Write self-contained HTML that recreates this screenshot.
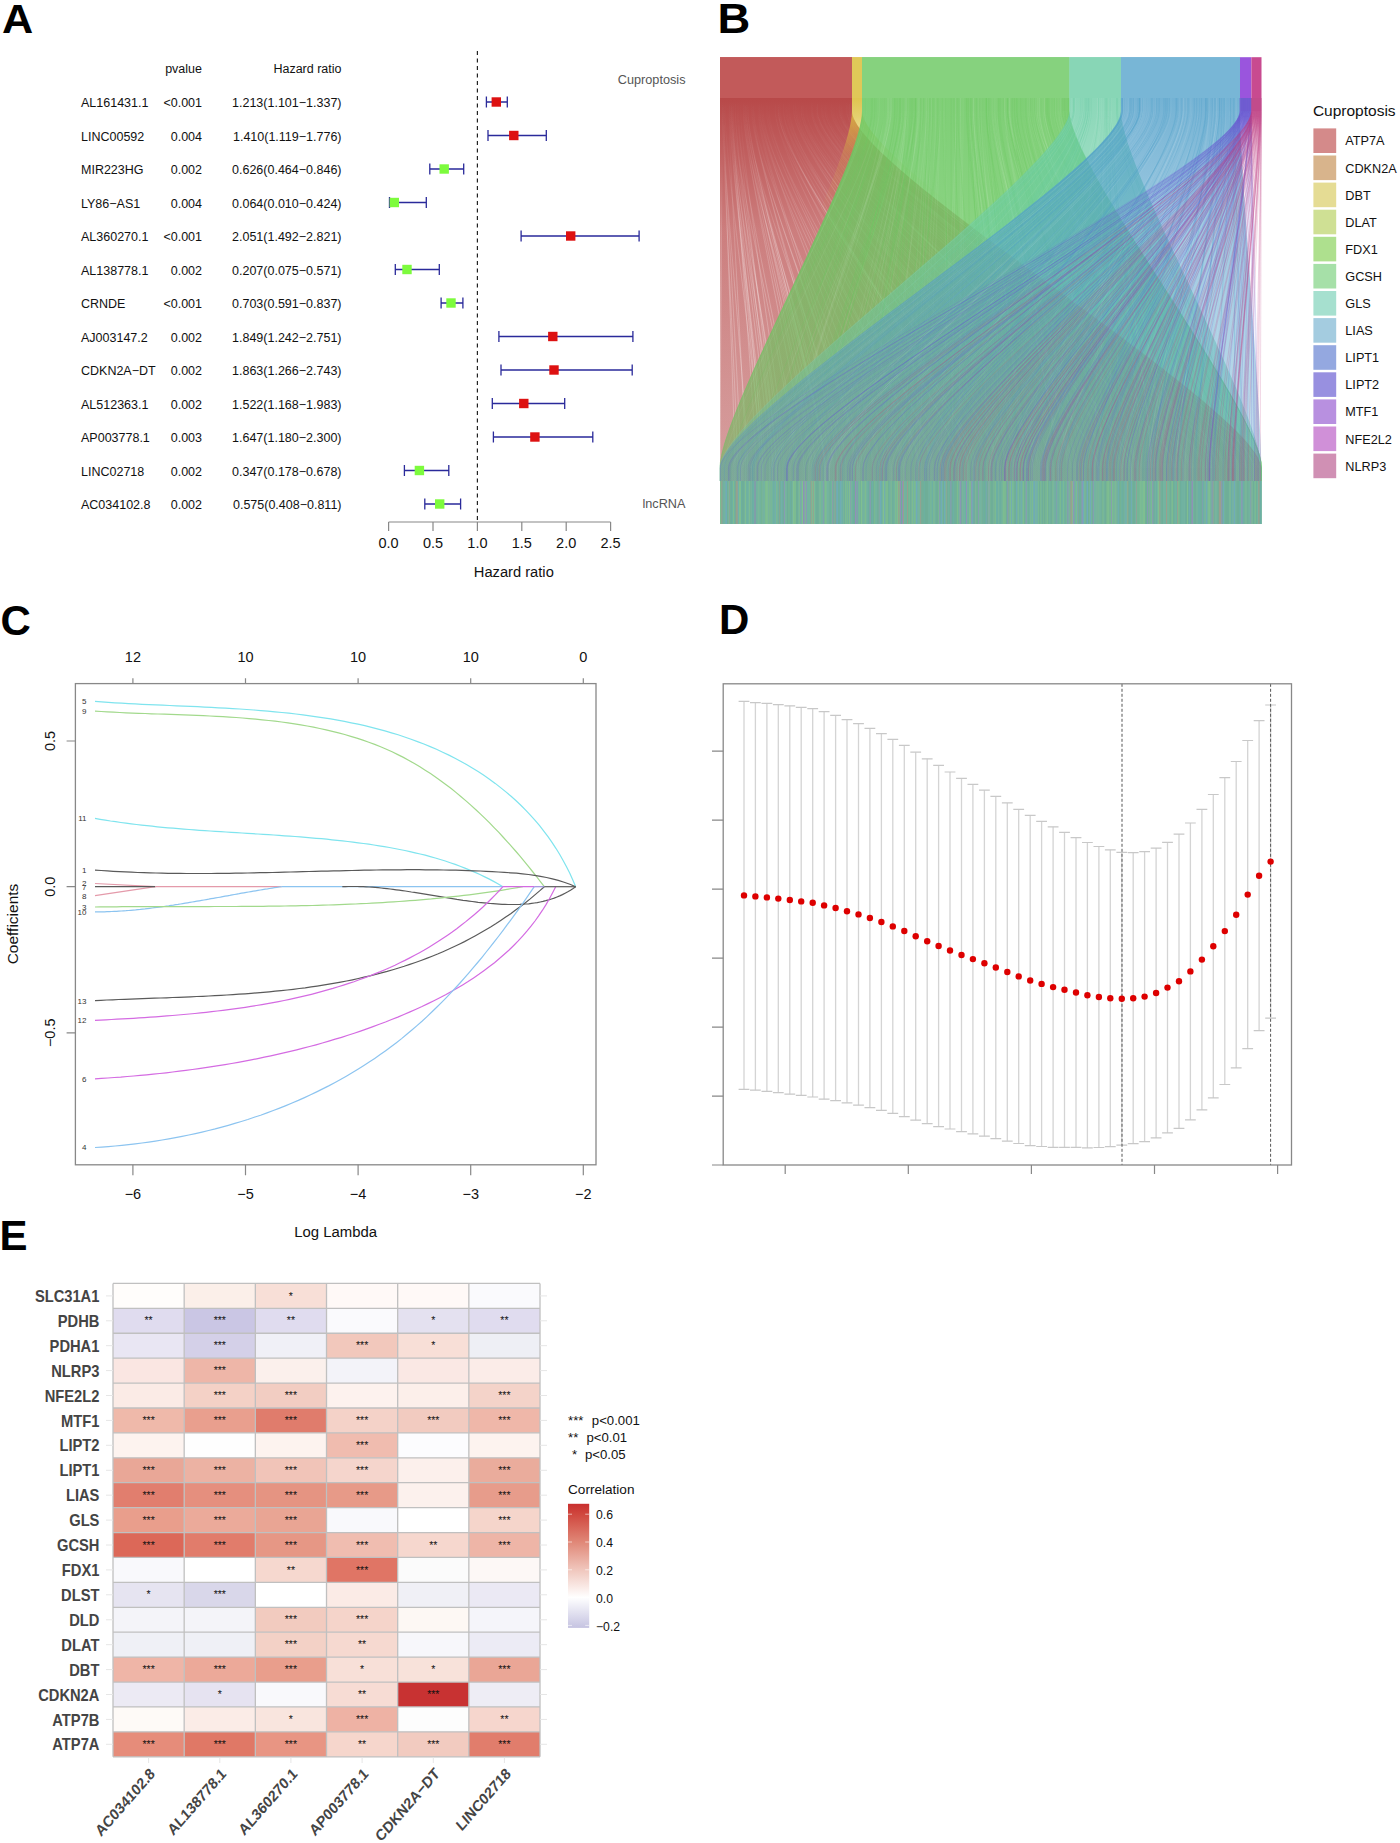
<!DOCTYPE html>
<html><head><meta charset="utf-8"><title>Figure</title>
<style>html,body{margin:0;padding:0;background:#fff;}svg{display:block;}</style></head>
<body><svg width="1400" height="1843" viewBox="0 0 1400 1843" font-family="'Liberation Sans', sans-serif">
<rect width="1400" height="1843" fill="#fff"/>
<text transform="translate(2 32.5) scale(1.08 1)" x="0" y="0" font-size="40" font-weight="bold" fill="#000">A</text>
<g font-size="12.5" fill="#111">
<text x="202" y="72.5" text-anchor="end">pvalue</text>
<text x="341.5" y="72.5" text-anchor="end">Hazard ratio</text>
<text x="81" y="107.0">AL161431.1</text>
<text x="202" y="107.0" text-anchor="end">&lt;0.001</text>
<text x="341.5" y="107.0" text-anchor="end">1.213(1.101−1.337)</text>
<text x="81" y="140.5">LINC00592</text>
<text x="202" y="140.5" text-anchor="end">0.004</text>
<text x="341.5" y="140.5" text-anchor="end">1.410(1.119−1.776)</text>
<text x="81" y="174.0">MIR223HG</text>
<text x="202" y="174.0" text-anchor="end">0.002</text>
<text x="341.5" y="174.0" text-anchor="end">0.626(0.464−0.846)</text>
<text x="81" y="207.5">LY86−AS1</text>
<text x="202" y="207.5" text-anchor="end">0.004</text>
<text x="341.5" y="207.5" text-anchor="end">0.064(0.010−0.424)</text>
<text x="81" y="241.0">AL360270.1</text>
<text x="202" y="241.0" text-anchor="end">&lt;0.001</text>
<text x="341.5" y="241.0" text-anchor="end">2.051(1.492−2.821)</text>
<text x="81" y="274.5">AL138778.1</text>
<text x="202" y="274.5" text-anchor="end">0.002</text>
<text x="341.5" y="274.5" text-anchor="end">0.207(0.075−0.571)</text>
<text x="81" y="308.0">CRNDE</text>
<text x="202" y="308.0" text-anchor="end">&lt;0.001</text>
<text x="341.5" y="308.0" text-anchor="end">0.703(0.591−0.837)</text>
<text x="81" y="341.5">AJ003147.2</text>
<text x="202" y="341.5" text-anchor="end">0.002</text>
<text x="341.5" y="341.5" text-anchor="end">1.849(1.242−2.751)</text>
<text x="81" y="375.0">CDKN2A−DT</text>
<text x="202" y="375.0" text-anchor="end">0.002</text>
<text x="341.5" y="375.0" text-anchor="end">1.863(1.266−2.743)</text>
<text x="81" y="408.5">AL512363.1</text>
<text x="202" y="408.5" text-anchor="end">0.002</text>
<text x="341.5" y="408.5" text-anchor="end">1.522(1.168−1.983)</text>
<text x="81" y="442.0">AP003778.1</text>
<text x="202" y="442.0" text-anchor="end">0.003</text>
<text x="341.5" y="442.0" text-anchor="end">1.647(1.180−2.300)</text>
<text x="81" y="475.5">LINC02718</text>
<text x="202" y="475.5" text-anchor="end">0.002</text>
<text x="341.5" y="475.5" text-anchor="end">0.347(0.178−0.678)</text>
<text x="81" y="509.0">AC034102.8</text>
<text x="202" y="509.0" text-anchor="end">0.002</text>
<text x="341.5" y="509.0" text-anchor="end">0.575(0.408−0.811)</text>
</g>
<g font-size="12.7" fill="#555"><text x="685.5" y="84" text-anchor="end">Cuproptosis</text><text x="685.5" y="508" text-anchor="end">lncRNA</text></g>
<line x1="477.4" y1="51" x2="477.4" y2="522" stroke="#222" stroke-width="1.2" stroke-dasharray="4 3.5"/>
<path d="M486.4 102.0H507.3M486.4 96.6V107.4M507.3 96.6V107.4" stroke="#2a2a9a" stroke-width="1.3" fill="none"/>
<rect x="491.6" y="97.3" width="9.4" height="9.4" fill="#dd1111"/>
<path d="M488.0 135.5H546.3M488.0 130.1V140.9M546.3 130.1V140.9" stroke="#2a2a9a" stroke-width="1.3" fill="none"/>
<rect x="509.1" y="130.8" width="9.4" height="9.4" fill="#dd1111"/>
<path d="M429.8 169.0H463.7M429.8 163.6V174.4M463.7 163.6V174.4" stroke="#2a2a9a" stroke-width="1.3" fill="none"/>
<rect x="439.5" y="164.3" width="9.4" height="9.4" fill="#7dfb3d"/>
<path d="M389.5 202.5H426.3M389.5 197.1V207.9M426.3 197.1V207.9" stroke="#2a2a9a" stroke-width="1.3" fill="none"/>
<rect x="389.6" y="197.8" width="9.4" height="9.4" fill="#7dfb3d"/>
<path d="M521.1 236.0H639.1M521.1 230.6V241.4M639.1 230.6V241.4" stroke="#2a2a9a" stroke-width="1.3" fill="none"/>
<rect x="566.0" y="231.3" width="9.4" height="9.4" fill="#dd1111"/>
<path d="M395.3 269.5H439.3M395.3 264.1V274.9M439.3 264.1V274.9" stroke="#2a2a9a" stroke-width="1.3" fill="none"/>
<rect x="402.3" y="264.8" width="9.4" height="9.4" fill="#7dfb3d"/>
<path d="M441.1 303.0H462.9M441.1 297.6V308.4M462.9 297.6V308.4" stroke="#2a2a9a" stroke-width="1.3" fill="none"/>
<rect x="446.3" y="298.3" width="9.4" height="9.4" fill="#7dfb3d"/>
<path d="M498.9 336.5H632.9M498.9 331.1V341.9M632.9 331.1V341.9" stroke="#2a2a9a" stroke-width="1.3" fill="none"/>
<rect x="548.1" y="331.8" width="9.4" height="9.4" fill="#dd1111"/>
<path d="M501.0 370.0H632.2M501.0 364.6V375.4M632.2 364.6V375.4" stroke="#2a2a9a" stroke-width="1.3" fill="none"/>
<rect x="549.3" y="365.3" width="9.4" height="9.4" fill="#dd1111"/>
<path d="M492.3 403.5H564.7M492.3 398.1V408.9M564.7 398.1V408.9" stroke="#2a2a9a" stroke-width="1.3" fill="none"/>
<rect x="519.1" y="398.8" width="9.4" height="9.4" fill="#dd1111"/>
<path d="M493.4 437.0H592.8M493.4 431.6V442.4M592.8 431.6V442.4" stroke="#2a2a9a" stroke-width="1.3" fill="none"/>
<rect x="530.2" y="432.3" width="9.4" height="9.4" fill="#dd1111"/>
<path d="M404.4 470.5H448.8M404.4 465.1V475.9M448.8 465.1V475.9" stroke="#2a2a9a" stroke-width="1.3" fill="none"/>
<rect x="414.7" y="465.8" width="9.4" height="9.4" fill="#7dfb3d"/>
<path d="M424.8 504.0H460.6M424.8 498.6V509.4M460.6 498.6V509.4" stroke="#2a2a9a" stroke-width="1.3" fill="none"/>
<rect x="435.0" y="499.3" width="9.4" height="9.4" fill="#7dfb3d"/>
<path d="M388.6 522H610.6M388.6 522V531M433.0 522V531M477.4 522V531M521.8 522V531M566.2 522V531M610.6 522V531" stroke="#888" stroke-width="1.2" fill="none"/>
<g font-size="14.5" fill="#111" text-anchor="middle">
<text x="388.6" y="548">0.0</text>
<text x="433.0" y="548">0.5</text>
<text x="477.4" y="548">1.0</text>
<text x="521.8" y="548">1.5</text>
<text x="566.2" y="548">2.0</text>
<text x="610.6" y="548">2.5</text>
<text x="513.8" y="577" font-size="14.7">Hazard ratio</text>
</g>
<text transform="translate(717.5 32.5) scale(1.08 1)" x="0" y="0" font-size="42" font-weight="bold" fill="#000">B</text>
<defs><linearGradient id="sgr" gradientUnits="userSpaceOnUse" x1="0" y1="98.0" x2="0" y2="481.0"><stop offset="0" stop-color="#ae3030" stop-opacity="0.88"/><stop offset="0.35" stop-color="#ae3030" stop-opacity="0.62"/><stop offset="1" stop-color="#ae3030" stop-opacity="0.4"/></linearGradient><linearGradient id="sgy" gradientUnits="userSpaceOnUse" x1="0" y1="98.0" x2="0" y2="481.0"><stop offset="0" stop-color="#dcc040" stop-opacity="0.92"/><stop offset="0.05" stop-color="#dcc040" stop-opacity="0.75"/><stop offset="0.15" stop-color="#dcc040" stop-opacity="0.22"/><stop offset="0.3" stop-color="#dcc040" stop-opacity="0"/><stop offset="1" stop-color="#dcc040" stop-opacity="0"/></linearGradient><linearGradient id="sgg" gradientUnits="userSpaceOnUse" x1="0" y1="98.0" x2="0" y2="481.0"><stop offset="0" stop-color="#6cc862" stop-opacity="0.87"/><stop offset="0.35" stop-color="#6cc862" stop-opacity="0.80"/><stop offset="1" stop-color="#6cc862" stop-opacity="0.58"/></linearGradient><linearGradient id="sgt" gradientUnits="userSpaceOnUse" x1="0" y1="98.0" x2="0" y2="481.0"><stop offset="0" stop-color="#6acca4" stop-opacity="0.78"/><stop offset="0.35" stop-color="#6acca4" stop-opacity="0.58"/><stop offset="1" stop-color="#6acca4" stop-opacity="0.42"/></linearGradient><linearGradient id="sgb" gradientUnits="userSpaceOnUse" x1="0" y1="98.0" x2="0" y2="481.0"><stop offset="0" stop-color="#519fc9" stop-opacity="0.8"/><stop offset="0.35" stop-color="#519fc9" stop-opacity="0.55"/><stop offset="1" stop-color="#519fc9" stop-opacity="0.34"/></linearGradient><linearGradient id="streak" gradientUnits="userSpaceOnUse" x1="0" y1="98.0" x2="0" y2="481.0"><stop offset="0" stop-color="#fff" stop-opacity="0"/><stop offset="0.15" stop-color="#fff" stop-opacity="0.05"/><stop offset="0.5" stop-color="#fff" stop-opacity="0.35"/><stop offset="1" stop-color="#fff" stop-opacity="0.45"/></linearGradient><linearGradient id="redov" gradientUnits="userSpaceOnUse" x1="0" y1="98.0" x2="0" y2="481.0"><stop offset="0.3" stop-color="#a04848" stop-opacity="0"/><stop offset="1" stop-color="#a04848" stop-opacity="0.14"/></linearGradient></defs>
<path d="M720.0 57.2H852.0V111.0C852.0 168.1 1261.5 410.9 1261.5 468.0V481.0H720.0V468.0C720.0 410.9 720.0 168.1 720.0 111.0Z" fill="url(#sgr)"/>
<path d="M779.7 98.0V111.0C779.7 168.1 967.6 410.9 967.6 468.0V481.0M842.0 98.0V111.0C842.0 168.1 1219.0 410.9 1219.0 468.0V481.0M787.0 98.0V111.0C787.0 168.1 998.8 410.9 998.8 468.0V481.0M744.4 98.0V111.0C744.4 168.1 820.5 410.9 820.5 468.0V481.0M803.1 98.0V111.0C803.1 168.1 1073.8 410.9 1073.8 468.0V481.0M732.4 98.0V111.0C732.4 168.1 762.5 410.9 762.5 468.0V481.0M732.0 98.0V111.0C732.0 168.1 782.5 410.9 782.5 468.0V481.0M811.5 98.0V111.0C811.5 168.1 1075.7 410.9 1075.7 468.0V481.0M849.6 98.0V111.0C849.6 168.1 1261.5 410.9 1261.5 468.0V481.0M806.3 98.0V111.0C806.3 168.1 1079.1 410.9 1079.1 468.0V481.0M740.8 98.0V111.0C740.8 168.1 784.3 410.9 784.3 468.0V481.0M789.7 98.0V111.0C789.7 168.1 987.0 410.9 987.0 468.0V481.0M745.1 98.0V111.0C745.1 168.1 811.8 410.9 811.8 468.0V481.0M724.0 98.0V111.0C724.0 168.1 734.7 410.9 734.7 468.0V481.0M778.2 98.0V111.0C778.2 168.1 973.4 410.9 973.4 468.0V481.0M788.5 98.0V111.0C788.5 168.1 1007.2 410.9 1007.2 468.0V481.0M786.0 98.0V111.0C786.0 168.1 997.7 410.9 997.7 468.0V481.0M780.4 98.0V111.0C780.4 168.1 958.0 410.9 958.0 468.0V481.0M851.7 98.0V111.0C851.7 168.1 1261.5 410.9 1261.5 468.0V481.0M830.9 98.0V111.0C830.9 168.1 1184.0 410.9 1184.0 468.0V481.0M761.6 98.0V111.0C761.6 168.1 879.0 410.9 879.0 468.0V481.0M758.2 98.0V111.0C758.2 168.1 857.9 410.9 857.9 468.0V481.0M821.2 98.0V111.0C821.2 168.1 1130.6 410.9 1130.6 468.0V481.0M831.7 98.0V111.0C831.7 168.1 1173.5 410.9 1173.5 468.0V481.0M846.5 98.0V111.0C846.5 168.1 1253.8 410.9 1253.8 468.0V481.0M720.1 98.0V111.0C720.1 168.1 720.0 410.9 720.0 468.0V481.0M840.2 98.0V111.0C840.2 168.1 1211.6 410.9 1211.6 468.0V481.0M849.4 98.0V111.0C849.4 168.1 1246.4 410.9 1246.4 468.0V481.0M729.6 98.0V111.0C729.6 168.1 765.2 410.9 765.2 468.0V481.0M822.8 98.0V111.0C822.8 168.1 1131.6 410.9 1131.6 468.0V481.0M731.5 98.0V111.0C731.5 168.1 759.9 410.9 759.9 468.0V481.0M847.3 98.0V111.0C847.3 168.1 1253.2 410.9 1253.2 468.0V481.0M735.6 98.0V111.0C735.6 168.1 772.9 410.9 772.9 468.0V481.0M733.3 98.0V111.0C733.3 168.1 755.7 410.9 755.7 468.0V481.0M825.2 98.0V111.0C825.2 168.1 1137.6 410.9 1137.6 468.0V481.0M793.8 98.0V111.0C793.8 168.1 1020.6 410.9 1020.6 468.0V481.0M745.2 98.0V111.0C745.2 168.1 833.3 410.9 833.3 468.0V481.0M737.3 98.0V111.0C737.3 168.1 797.1 410.9 797.1 468.0V481.0M735.4 98.0V111.0C735.4 168.1 779.7 410.9 779.7 468.0V481.0M748.1 98.0V111.0C748.1 168.1 825.3 410.9 825.3 468.0V481.0M848.2 98.0V111.0C848.2 168.1 1258.9 410.9 1258.9 468.0V481.0M760.1 98.0V111.0C760.1 168.1 901.4 410.9 901.4 468.0V481.0M747.8 98.0V111.0C747.8 168.1 829.5 410.9 829.5 468.0V481.0M832.8 98.0V111.0C832.8 168.1 1188.8 410.9 1188.8 468.0V481.0M733.2 98.0V111.0C733.2 168.1 795.5 410.9 795.5 468.0V481.0M748.1 98.0V111.0C748.1 168.1 825.0 410.9 825.0 468.0V481.0M822.0 98.0V111.0C822.0 168.1 1131.0 410.9 1131.0 468.0V481.0M759.1 98.0V111.0C759.1 168.1 862.0 410.9 862.0 468.0V481.0M731.9 98.0V111.0C731.9 168.1 772.4 410.9 772.4 468.0V481.0M752.1 98.0V111.0C752.1 168.1 856.0 410.9 856.0 468.0V481.0M769.1 98.0V111.0C769.1 168.1 919.3 410.9 919.3 468.0V481.0M846.6 98.0V111.0C846.6 168.1 1238.7 410.9 1238.7 468.0V481.0M795.8 98.0V111.0C795.8 168.1 1047.0 410.9 1047.0 468.0V481.0M744.1 98.0V111.0C744.1 168.1 804.0 410.9 804.0 468.0V481.0M839.9 98.0V111.0C839.9 168.1 1225.7 410.9 1225.7 468.0V481.0M752.9 98.0V111.0C752.9 168.1 841.7 410.9 841.7 468.0V481.0M817.6 98.0V111.0C817.6 168.1 1139.5 410.9 1139.5 468.0V481.0M745.9 98.0V111.0C745.9 168.1 846.0 410.9 846.0 468.0V481.0M836.4 98.0V111.0C836.4 168.1 1202.2 410.9 1202.2 468.0V481.0M775.6 98.0V111.0C775.6 168.1 931.1 410.9 931.1 468.0V481.0M725.1 98.0V111.0C725.1 168.1 761.0 410.9 761.0 468.0V481.0M751.5 98.0V111.0C751.5 168.1 858.0 410.9 858.0 468.0V481.0M753.9 98.0V111.0C753.9 168.1 873.2 410.9 873.2 468.0V481.0M798.7 98.0V111.0C798.7 168.1 1034.0 410.9 1034.0 468.0V481.0M743.2 98.0V111.0C743.2 168.1 824.5 410.9 824.5 468.0V481.0M729.1 98.0V111.0C729.1 168.1 745.5 410.9 745.5 468.0V481.0M793.8 98.0V111.0C793.8 168.1 1038.2 410.9 1038.2 468.0V481.0M801.1 98.0V111.0C801.1 168.1 1043.1 410.9 1043.1 468.0V481.0M841.1 98.0V111.0C841.1 168.1 1203.9 410.9 1203.9 468.0V481.0M722.2 98.0V111.0C722.2 168.1 720.0 410.9 720.0 468.0V481.0M778.8 98.0V111.0C778.8 168.1 942.3 410.9 942.3 468.0V481.0M743.3 98.0V111.0C743.3 168.1 809.8 410.9 809.8 468.0V481.0M795.5 98.0V111.0C795.5 168.1 1013.9 410.9 1013.9 468.0V481.0M767.8 98.0V111.0C767.8 168.1 933.0 410.9 933.0 468.0V481.0M849.4 98.0V111.0C849.4 168.1 1257.7 410.9 1257.7 468.0V481.0M811.2 98.0V111.0C811.2 168.1 1098.0 410.9 1098.0 468.0V481.0M738.5 98.0V111.0C738.5 168.1 775.9 410.9 775.9 468.0V481.0M722.4 98.0V111.0C722.4 168.1 747.5 410.9 747.5 468.0V481.0M812.5 98.0V111.0C812.5 168.1 1119.6 410.9 1119.6 468.0V481.0M722.8 98.0V111.0C722.8 168.1 737.4 410.9 737.4 468.0V481.0M783.7 98.0V111.0C783.7 168.1 991.1 410.9 991.1 468.0V481.0M762.1 98.0V111.0C762.1 168.1 914.3 410.9 914.3 468.0V481.0M729.9 98.0V111.0C729.9 168.1 762.8 410.9 762.8 468.0V481.0M817.3 98.0V111.0C817.3 168.1 1136.4 410.9 1136.4 468.0V481.0M817.3 98.0V111.0C817.3 168.1 1128.0 410.9 1128.0 468.0V481.0M824.7 98.0V111.0C824.7 168.1 1167.5 410.9 1167.5 468.0V481.0M766.4 98.0V111.0C766.4 168.1 918.5 410.9 918.5 468.0V481.0M838.9 98.0V111.0C838.9 168.1 1223.9 410.9 1223.9 468.0V481.0M775.1 98.0V111.0C775.1 168.1 958.5 410.9 958.5 468.0V481.0M834.0 98.0V111.0C834.0 168.1 1190.7 410.9 1190.7 468.0V481.0M802.5 98.0V111.0C802.5 168.1 1053.3 410.9 1053.3 468.0V481.0M796.9 98.0V111.0C796.9 168.1 1040.2 410.9 1040.2 468.0V481.0M730.6 98.0V111.0C730.6 168.1 769.5 410.9 769.5 468.0V481.0M851.1 98.0V111.0C851.1 168.1 1261.5 410.9 1261.5 468.0V481.0M816.1 98.0V111.0C816.1 168.1 1109.5 410.9 1109.5 468.0V481.0M817.0 98.0V111.0C817.0 168.1 1121.5 410.9 1121.5 468.0V481.0M778.1 98.0V111.0C778.1 168.1 973.2 410.9 973.2 468.0V481.0M731.1 98.0V111.0C731.1 168.1 776.2 410.9 776.2 468.0V481.0M723.9 98.0V111.0C723.9 168.1 740.5 410.9 740.5 468.0V481.0M783.5 98.0V111.0C783.5 168.1 968.8 410.9 968.8 468.0V481.0M812.2 98.0V111.0C812.2 168.1 1098.0 410.9 1098.0 468.0V481.0M801.1 98.0V111.0C801.1 168.1 1071.0 410.9 1071.0 468.0V481.0M753.8 98.0V111.0C753.8 168.1 837.4 410.9 837.4 468.0V481.0M759.7 98.0V111.0C759.7 168.1 890.7 410.9 890.7 468.0V481.0M746.7 98.0V111.0C746.7 168.1 815.4 410.9 815.4 468.0V481.0M839.6 98.0V111.0C839.6 168.1 1217.4 410.9 1217.4 468.0V481.0M778.3 98.0V111.0C778.3 168.1 976.3 410.9 976.3 468.0V481.0M763.2 98.0V111.0C763.2 168.1 904.2 410.9 904.2 468.0V481.0M746.2 98.0V111.0C746.2 168.1 824.5 410.9 824.5 468.0V481.0M826.4 98.0V111.0C826.4 168.1 1174.4 410.9 1174.4 468.0V481.0" fill="none" stroke="url(#streak)" stroke-width="0.7"/>
<path d="M852.0 57.2H862.0V111.0C862.0 168.1 1261.5 410.9 1261.5 468.0V481.0H720.0V468.0C720.0 410.9 852.0 168.1 852.0 111.0Z" fill="url(#sgy)"/>
<path d="M862.0 57.2H1069.4V111.0C1069.4 168.1 1261.5 410.9 1261.5 468.0V481.0H720.0V468.0C720.0 410.9 862.0 168.1 862.0 111.0Z" fill="url(#sgg)"/>
<path d="M1044.6 98.0V111.0C1044.6 168.1 1190.4 410.9 1190.4 468.0V481.0M982.9 98.0V111.0C982.9 168.1 1025.8 410.9 1025.8 468.0V481.0M890.2 98.0V111.0C890.2 168.1 793.5 410.9 793.5 468.0V481.0M1035.6 98.0V111.0C1035.6 168.1 1192.2 410.9 1192.2 468.0V481.0M1009.5 98.0V111.0C1009.5 168.1 1129.5 410.9 1129.5 468.0V481.0M919.4 98.0V111.0C919.4 168.1 852.0 410.9 852.0 468.0V481.0M955.5 98.0V111.0C955.5 168.1 951.9 410.9 951.9 468.0V481.0M906.4 98.0V111.0C906.4 168.1 831.3 410.9 831.3 468.0V481.0M991.8 98.0V111.0C991.8 168.1 1058.5 410.9 1058.5 468.0V481.0M927.4 98.0V111.0C927.4 168.1 909.1 410.9 909.1 468.0V481.0M1065.7 98.0V111.0C1065.7 168.1 1249.2 410.9 1249.2 468.0V481.0M877.5 98.0V111.0C877.5 168.1 735.1 410.9 735.1 468.0V481.0M1043.0 98.0V111.0C1043.0 168.1 1167.8 410.9 1167.8 468.0V481.0M1009.0 98.0V111.0C1009.0 168.1 1107.5 410.9 1107.5 468.0V481.0M926.1 98.0V111.0C926.1 168.1 903.1 410.9 903.1 468.0V481.0M866.0 98.0V111.0C866.0 168.1 720.0 410.9 720.0 468.0V481.0M956.3 98.0V111.0C956.3 168.1 940.6 410.9 940.6 468.0V481.0M1034.1 98.0V111.0C1034.1 168.1 1155.0 410.9 1155.0 468.0V481.0M891.2 98.0V111.0C891.2 168.1 771.8 410.9 771.8 468.0V481.0M992.5 98.0V111.0C992.5 168.1 1057.8 410.9 1057.8 468.0V481.0M992.7 98.0V111.0C992.7 168.1 1069.5 410.9 1069.5 468.0V481.0M1029.5 98.0V111.0C1029.5 168.1 1182.0 410.9 1182.0 468.0V481.0M1004.0 98.0V111.0C1004.0 168.1 1074.4 410.9 1074.4 468.0V481.0M960.5 98.0V111.0C960.5 168.1 959.9 410.9 959.9 468.0V481.0M864.2 98.0V111.0C864.2 168.1 724.3 410.9 724.3 468.0V481.0M1010.1 98.0V111.0C1010.1 168.1 1089.3 410.9 1089.3 468.0V481.0M918.5 98.0V111.0C918.5 168.1 859.1 410.9 859.1 468.0V481.0M1006.6 98.0V111.0C1006.6 168.1 1098.7 410.9 1098.7 468.0V481.0M989.4 98.0V111.0C989.4 168.1 1066.6 410.9 1066.6 468.0V481.0M943.6 98.0V111.0C943.6 168.1 948.9 410.9 948.9 468.0V481.0M1050.0 98.0V111.0C1050.0 168.1 1188.4 410.9 1188.4 468.0V481.0M1055.4 98.0V111.0C1055.4 168.1 1237.0 410.9 1237.0 468.0V481.0M888.9 98.0V111.0C888.9 168.1 787.8 410.9 787.8 468.0V481.0M991.7 98.0V111.0C991.7 168.1 1080.9 410.9 1080.9 468.0V481.0M940.1 98.0V111.0C940.1 168.1 927.8 410.9 927.8 468.0V481.0M1044.4 98.0V111.0C1044.4 168.1 1212.2 410.9 1212.2 468.0V481.0M1057.8 98.0V111.0C1057.8 168.1 1229.4 410.9 1229.4 468.0V481.0M997.1 98.0V111.0C997.1 168.1 1056.7 410.9 1056.7 468.0V481.0M1011.7 98.0V111.0C1011.7 168.1 1128.2 410.9 1128.2 468.0V481.0M995.1 98.0V111.0C995.1 168.1 1079.2 410.9 1079.2 468.0V481.0M906.2 98.0V111.0C906.2 168.1 857.2 410.9 857.2 468.0V481.0M1065.4 98.0V111.0C1065.4 168.1 1261.5 410.9 1261.5 468.0V481.0M973.4 98.0V111.0C973.4 168.1 1026.5 410.9 1026.5 468.0V481.0M928.4 98.0V111.0C928.4 168.1 915.7 410.9 915.7 468.0V481.0M1039.5 98.0V111.0C1039.5 168.1 1175.2 410.9 1175.2 468.0V481.0M879.2 98.0V111.0C879.2 168.1 761.6 410.9 761.6 468.0V481.0M976.1 98.0V111.0C976.1 168.1 1032.5 410.9 1032.5 468.0V481.0M963.1 98.0V111.0C963.1 168.1 958.4 410.9 958.4 468.0V481.0M1029.8 98.0V111.0C1029.8 168.1 1134.5 410.9 1134.5 468.0V481.0M1027.9 98.0V111.0C1027.9 168.1 1135.4 410.9 1135.4 468.0V481.0M931.5 98.0V111.0C931.5 168.1 917.0 410.9 917.0 468.0V481.0M891.1 98.0V111.0C891.1 168.1 777.1 410.9 777.1 468.0V481.0M969.1 98.0V111.0C969.1 168.1 1011.8 410.9 1011.8 468.0V481.0M1036.2 98.0V111.0C1036.2 168.1 1185.1 410.9 1185.1 468.0V481.0M1058.1 98.0V111.0C1058.1 168.1 1231.7 410.9 1231.7 468.0V481.0M1058.9 98.0V111.0C1058.9 168.1 1211.6 410.9 1211.6 468.0V481.0M907.9 98.0V111.0C907.9 168.1 841.3 410.9 841.3 468.0V481.0M922.2 98.0V111.0C922.2 168.1 889.5 410.9 889.5 468.0V481.0M994.5 98.0V111.0C994.5 168.1 1067.2 410.9 1067.2 468.0V481.0M1037.0 98.0V111.0C1037.0 168.1 1180.1 410.9 1180.1 468.0V481.0M926.6 98.0V111.0C926.6 168.1 882.4 410.9 882.4 468.0V481.0M1037.3 98.0V111.0C1037.3 168.1 1199.4 410.9 1199.4 468.0V481.0M905.2 98.0V111.0C905.2 168.1 851.8 410.9 851.8 468.0V481.0M1062.9 98.0V111.0C1062.9 168.1 1245.7 410.9 1245.7 468.0V481.0M980.8 98.0V111.0C980.8 168.1 1014.1 410.9 1014.1 468.0V481.0M973.1 98.0V111.0C973.1 168.1 1010.4 410.9 1010.4 468.0V481.0M987.5 98.0V111.0C987.5 168.1 1022.2 410.9 1022.2 468.0V481.0M1063.1 98.0V111.0C1063.1 168.1 1245.8 410.9 1245.8 468.0V481.0M945.1 98.0V111.0C945.1 168.1 953.2 410.9 953.2 468.0V481.0M978.7 98.0V111.0C978.7 168.1 1024.3 410.9 1024.3 468.0V481.0M1005.3 98.0V111.0C1005.3 168.1 1070.7 410.9 1070.7 468.0V481.0M973.7 98.0V111.0C973.7 168.1 1007.0 410.9 1007.0 468.0V481.0M1060.5 98.0V111.0C1060.5 168.1 1261.1 410.9 1261.1 468.0V481.0M917.8 98.0V111.0C917.8 168.1 864.3 410.9 864.3 468.0V481.0M888.3 98.0V111.0C888.3 168.1 785.2 410.9 785.2 468.0V481.0M1031.2 98.0V111.0C1031.2 168.1 1183.4 410.9 1183.4 468.0V481.0M960.8 98.0V111.0C960.8 168.1 968.1 410.9 968.1 468.0V481.0M901.7 98.0V111.0C901.7 168.1 830.1 410.9 830.1 468.0V481.0M1053.9 98.0V111.0C1053.9 168.1 1201.0 410.9 1201.0 468.0V481.0M1023.6 98.0V111.0C1023.6 168.1 1116.1 410.9 1116.1 468.0V481.0M902.3 98.0V111.0C902.3 168.1 810.3 410.9 810.3 468.0V481.0M1004.5 98.0V111.0C1004.5 168.1 1082.4 410.9 1082.4 468.0V481.0M935.7 98.0V111.0C935.7 168.1 918.9 410.9 918.9 468.0V481.0M883.8 98.0V111.0C883.8 168.1 789.3 410.9 789.3 468.0V481.0M887.5 98.0V111.0C887.5 168.1 787.1 410.9 787.1 468.0V481.0M914.0 98.0V111.0C914.0 168.1 839.3 410.9 839.3 468.0V481.0M972.0 98.0V111.0C972.0 168.1 1003.8 410.9 1003.8 468.0V481.0M939.9 98.0V111.0C939.9 168.1 918.8 410.9 918.8 468.0V481.0M971.8 98.0V111.0C971.8 168.1 988.2 410.9 988.2 468.0V481.0M904.4 98.0V111.0C904.4 168.1 837.7 410.9 837.7 468.0V481.0M994.4 98.0V111.0C994.4 168.1 1067.3 410.9 1067.3 468.0V481.0M1038.6 98.0V111.0C1038.6 168.1 1187.0 410.9 1187.0 468.0V481.0M1039.7 98.0V111.0C1039.7 168.1 1169.5 410.9 1169.5 468.0V481.0M1015.6 98.0V111.0C1015.6 168.1 1137.9 410.9 1137.9 468.0V481.0" fill="none" stroke="#fff" stroke-width="0.6" stroke-opacity="0.10"/>
<path d="M1049.2 98.0V111.0C1049.2 168.1 1198.8 410.9 1198.8 468.0V481.0M927.3 98.0V111.0C927.3 168.1 913.5 410.9 913.5 468.0V481.0M907.2 98.0V111.0C907.2 168.1 865.1 410.9 865.1 468.0V481.0M1046.1 98.0V111.0C1046.1 168.1 1180.8 410.9 1180.8 468.0V481.0M911.6 98.0V111.0C911.6 168.1 861.9 410.9 861.9 468.0V481.0M915.8 98.0V111.0C915.8 168.1 838.7 410.9 838.7 468.0V481.0M1034.6 98.0V111.0C1034.6 168.1 1166.4 410.9 1166.4 468.0V481.0M1025.8 98.0V111.0C1025.8 168.1 1127.5 410.9 1127.5 468.0V481.0M945.5 98.0V111.0C945.5 168.1 948.1 410.9 948.1 468.0V481.0M865.7 98.0V111.0C865.7 168.1 720.0 410.9 720.0 468.0V481.0M1003.5 98.0V111.0C1003.5 168.1 1111.8 410.9 1111.8 468.0V481.0M1062.8 98.0V111.0C1062.8 168.1 1223.6 410.9 1223.6 468.0V481.0M966.9 98.0V111.0C966.9 168.1 1007.8 410.9 1007.8 468.0V481.0M966.3 98.0V111.0C966.3 168.1 1002.3 410.9 1002.3 468.0V481.0M901.2 98.0V111.0C901.2 168.1 799.1 410.9 799.1 468.0V481.0M884.0 98.0V111.0C884.0 168.1 752.4 410.9 752.4 468.0V481.0M976.4 98.0V111.0C976.4 168.1 1019.5 410.9 1019.5 468.0V481.0M980.0 98.0V111.0C980.0 168.1 1008.8 410.9 1008.8 468.0V481.0M900.3 98.0V111.0C900.3 168.1 803.9 410.9 803.9 468.0V481.0M1036.3 98.0V111.0C1036.3 168.1 1201.5 410.9 1201.5 468.0V481.0M1054.2 98.0V111.0C1054.2 168.1 1200.0 410.9 1200.0 468.0V481.0M874.8 98.0V111.0C874.8 168.1 778.0 410.9 778.0 468.0V481.0M957.8 98.0V111.0C957.8 168.1 984.5 410.9 984.5 468.0V481.0M929.8 98.0V111.0C929.8 168.1 895.2 410.9 895.2 468.0V481.0M968.9 98.0V111.0C968.9 168.1 995.2 410.9 995.2 468.0V481.0M986.6 98.0V111.0C986.6 168.1 1019.0 410.9 1019.0 468.0V481.0M1007.4 98.0V111.0C1007.4 168.1 1118.2 410.9 1118.2 468.0V481.0M899.6 98.0V111.0C899.6 168.1 815.7 410.9 815.7 468.0V481.0M1015.3 98.0V111.0C1015.3 168.1 1115.2 410.9 1115.2 468.0V481.0M902.5 98.0V111.0C902.5 168.1 807.5 410.9 807.5 468.0V481.0M968.3 98.0V111.0C968.3 168.1 971.3 410.9 971.3 468.0V481.0M1047.2 98.0V111.0C1047.2 168.1 1220.0 410.9 1220.0 468.0V481.0M1008.1 98.0V111.0C1008.1 168.1 1121.1 410.9 1121.1 468.0V481.0M992.5 98.0V111.0C992.5 168.1 1055.6 410.9 1055.6 468.0V481.0M986.4 98.0V111.0C986.4 168.1 1044.9 410.9 1044.9 468.0V481.0M1065.8 98.0V111.0C1065.8 168.1 1261.5 410.9 1261.5 468.0V481.0M915.6 98.0V111.0C915.6 168.1 882.1 410.9 882.1 468.0V481.0M1016.4 98.0V111.0C1016.4 168.1 1138.2 410.9 1138.2 468.0V481.0M1031.0 98.0V111.0C1031.0 168.1 1156.0 410.9 1156.0 468.0V481.0M1047.9 98.0V111.0C1047.9 168.1 1226.0 410.9 1226.0 468.0V481.0M1006.1 98.0V111.0C1006.1 168.1 1110.7 410.9 1110.7 468.0V481.0M1020.7 98.0V111.0C1020.7 168.1 1129.3 410.9 1129.3 468.0V481.0M1011.9 98.0V111.0C1011.9 168.1 1088.1 410.9 1088.1 468.0V481.0M932.9 98.0V111.0C932.9 168.1 903.4 410.9 903.4 468.0V481.0M864.2 98.0V111.0C864.2 168.1 720.0 410.9 720.0 468.0V481.0M994.5 98.0V111.0C994.5 168.1 1072.6 410.9 1072.6 468.0V481.0M910.1 98.0V111.0C910.1 168.1 869.8 410.9 869.8 468.0V481.0M1000.1 98.0V111.0C1000.1 168.1 1071.9 410.9 1071.9 468.0V481.0M998.8 98.0V111.0C998.8 168.1 1081.0 410.9 1081.0 468.0V481.0M972.6 98.0V111.0C972.6 168.1 1002.7 410.9 1002.7 468.0V481.0M1069.4 98.0V111.0C1069.4 168.1 1261.5 410.9 1261.5 468.0V481.0M1007.4 98.0V111.0C1007.4 168.1 1113.9 410.9 1113.9 468.0V481.0M1065.3 98.0V111.0C1065.3 168.1 1224.9 410.9 1224.9 468.0V481.0M989.6 98.0V111.0C989.6 168.1 1066.2 410.9 1066.2 468.0V481.0M915.2 98.0V111.0C915.2 168.1 853.6 410.9 853.6 468.0V481.0M872.5 98.0V111.0C872.5 168.1 730.8 410.9 730.8 468.0V481.0M939.9 98.0V111.0C939.9 168.1 901.7 410.9 901.7 468.0V481.0M914.0 98.0V111.0C914.0 168.1 877.8 410.9 877.8 468.0V481.0M976.1 98.0V111.0C976.1 168.1 1018.3 410.9 1018.3 468.0V481.0M1062.6 98.0V111.0C1062.6 168.1 1247.4 410.9 1247.4 468.0V481.0M1068.4 98.0V111.0C1068.4 168.1 1261.5 410.9 1261.5 468.0V481.0M1029.9 98.0V111.0C1029.9 168.1 1135.4 410.9 1135.4 468.0V481.0M985.9 98.0V111.0C985.9 168.1 1057.6 410.9 1057.6 468.0V481.0M871.4 98.0V111.0C871.4 168.1 767.7 410.9 767.7 468.0V481.0M895.2 98.0V111.0C895.2 168.1 805.1 410.9 805.1 468.0V481.0M897.1 98.0V111.0C897.1 168.1 811.3 410.9 811.3 468.0V481.0M988.8 98.0V111.0C988.8 168.1 1027.0 410.9 1027.0 468.0V481.0M1058.0 98.0V111.0C1058.0 168.1 1227.6 410.9 1227.6 468.0V481.0M971.2 98.0V111.0C971.2 168.1 1010.5 410.9 1010.5 468.0V481.0M937.8 98.0V111.0C937.8 168.1 906.4 410.9 906.4 468.0V481.0M997.9 98.0V111.0C997.9 168.1 1078.0 410.9 1078.0 468.0V481.0M920.8 98.0V111.0C920.8 168.1 885.3 410.9 885.3 468.0V481.0M923.4 98.0V111.0C923.4 168.1 854.0 410.9 854.0 468.0V481.0M912.8 98.0V111.0C912.8 168.1 827.9 410.9 827.9 468.0V481.0M894.5 98.0V111.0C894.5 168.1 818.6 410.9 818.6 468.0V481.0M942.9 98.0V111.0C942.9 168.1 952.7 410.9 952.7 468.0V481.0M1017.2 98.0V111.0C1017.2 168.1 1100.9 410.9 1100.9 468.0V481.0M1067.1 98.0V111.0C1067.1 168.1 1261.5 410.9 1261.5 468.0V481.0M877.2 98.0V111.0C877.2 168.1 781.8 410.9 781.8 468.0V481.0M951.1 98.0V111.0C951.1 168.1 951.4 410.9 951.4 468.0V481.0M1063.8 98.0V111.0C1063.8 168.1 1233.1 410.9 1233.1 468.0V481.0M970.5 98.0V111.0C970.5 168.1 1027.1 410.9 1027.1 468.0V481.0M1011.9 98.0V111.0C1011.9 168.1 1109.6 410.9 1109.6 468.0V481.0M1065.0 98.0V111.0C1065.0 168.1 1261.5 410.9 1261.5 468.0V481.0M987.2 98.0V111.0C987.2 168.1 1026.0 410.9 1026.0 468.0V481.0M991.5 98.0V111.0C991.5 168.1 1055.6 410.9 1055.6 468.0V481.0M904.2 98.0V111.0C904.2 168.1 806.0 410.9 806.0 468.0V481.0M971.5 98.0V111.0C971.5 168.1 985.6 410.9 985.6 468.0V481.0M953.9 98.0V111.0C953.9 168.1 968.9 410.9 968.9 468.0V481.0M956.5 98.0V111.0C956.5 168.1 953.8 410.9 953.8 468.0V481.0M982.8 98.0V111.0C982.8 168.1 1030.9 410.9 1030.9 468.0V481.0M1023.4 98.0V111.0C1023.4 168.1 1142.9 410.9 1142.9 468.0V481.0M1068.9 98.0V111.0C1068.9 168.1 1261.5 410.9 1261.5 468.0V481.0M1014.3 98.0V111.0C1014.3 168.1 1103.5 410.9 1103.5 468.0V481.0" fill="none" stroke="#6cc862" stroke-width="0.8" stroke-opacity="0.35"/>
<path d="M1069.4 57.2H1121.0V111.0C1121.0 168.1 1261.5 410.9 1261.5 468.0V481.0H720.0V468.0C720.0 410.9 1069.4 168.1 1069.4 111.0Z" fill="url(#sgt)"/>
<path d="M1075.3 98.0V111.0C1075.3 168.1 802.9 410.9 802.9 468.0V481.0M1109.9 98.0V111.0C1109.9 168.1 1151.5 410.9 1151.5 468.0V481.0M1087.9 98.0V111.0C1087.9 168.1 902.1 410.9 902.1 468.0V481.0M1104.7 98.0V111.0C1104.7 168.1 1094.5 410.9 1094.5 468.0V481.0M1099.9 98.0V111.0C1099.9 168.1 1047.6 410.9 1047.6 468.0V481.0M1108.3 98.0V111.0C1108.3 168.1 1111.1 410.9 1111.1 468.0V481.0M1082.2 98.0V111.0C1082.2 168.1 880.8 410.9 880.8 468.0V481.0M1116.7 98.0V111.0C1116.7 168.1 1236.4 410.9 1236.4 468.0V481.0M1071.4 98.0V111.0C1071.4 168.1 720.0 410.9 720.0 468.0V481.0M1083.4 98.0V111.0C1083.4 168.1 862.7 410.9 862.7 468.0V481.0M1101.6 98.0V111.0C1101.6 168.1 1036.0 410.9 1036.0 468.0V481.0M1097.3 98.0V111.0C1097.3 168.1 990.2 410.9 990.2 468.0V481.0M1073.9 98.0V111.0C1073.9 168.1 776.4 410.9 776.4 468.0V481.0M1097.8 98.0V111.0C1097.8 168.1 1025.3 410.9 1025.3 468.0V481.0M1088.7 98.0V111.0C1088.7 168.1 920.9 410.9 920.9 468.0V481.0M1080.3 98.0V111.0C1080.3 168.1 825.6 410.9 825.6 468.0V481.0M1107.8 98.0V111.0C1107.8 168.1 1141.7 410.9 1141.7 468.0V481.0M1073.2 98.0V111.0C1073.2 168.1 739.7 410.9 739.7 468.0V481.0M1111.2 98.0V111.0C1111.2 168.1 1164.9 410.9 1164.9 468.0V481.0M1109.1 98.0V111.0C1109.1 168.1 1120.7 410.9 1120.7 468.0V481.0M1091.3 98.0V111.0C1091.3 168.1 936.7 410.9 936.7 468.0V481.0M1111.2 98.0V111.0C1111.2 168.1 1151.5 410.9 1151.5 468.0V481.0M1103.1 98.0V111.0C1103.1 168.1 1100.4 410.9 1100.4 468.0V481.0" fill="none" stroke="#fff" stroke-width="0.6" stroke-opacity="0.10"/>
<path d="M1086.2 98.0V111.0C1086.2 168.1 898.8 410.9 898.8 468.0V481.0M1107.9 98.0V111.0C1107.9 168.1 1146.8 410.9 1146.8 468.0V481.0M1091.5 98.0V111.0C1091.5 168.1 944.5 410.9 944.5 468.0V481.0M1074.4 98.0V111.0C1074.4 168.1 792.9 410.9 792.9 468.0V481.0M1073.5 98.0V111.0C1073.5 168.1 739.9 410.9 739.9 468.0V481.0M1098.5 98.0V111.0C1098.5 168.1 1024.7 410.9 1024.7 468.0V481.0M1104.8 98.0V111.0C1104.8 168.1 1080.2 410.9 1080.2 468.0V481.0M1109.4 98.0V111.0C1109.4 168.1 1117.0 410.9 1117.0 468.0V481.0M1080.4 98.0V111.0C1080.4 168.1 844.3 410.9 844.3 468.0V481.0M1073.6 98.0V111.0C1073.6 168.1 753.6 410.9 753.6 468.0V481.0M1106.8 98.0V111.0C1106.8 168.1 1123.1 410.9 1123.1 468.0V481.0M1084.0 98.0V111.0C1084.0 168.1 853.9 410.9 853.9 468.0V481.0M1087.9 98.0V111.0C1087.9 168.1 926.0 410.9 926.0 468.0V481.0M1088.3 98.0V111.0C1088.3 168.1 897.7 410.9 897.7 468.0V481.0M1106.0 98.0V111.0C1106.0 168.1 1107.8 410.9 1107.8 468.0V481.0M1116.8 98.0V111.0C1116.8 168.1 1241.2 410.9 1241.2 468.0V481.0M1116.5 98.0V111.0C1116.5 168.1 1211.2 410.9 1211.2 468.0V481.0M1110.8 98.0V111.0C1110.8 168.1 1144.3 410.9 1144.3 468.0V481.0M1085.8 98.0V111.0C1085.8 168.1 886.6 410.9 886.6 468.0V481.0M1117.6 98.0V111.0C1117.6 168.1 1247.5 410.9 1247.5 468.0V481.0M1082.2 98.0V111.0C1082.2 168.1 847.0 410.9 847.0 468.0V481.0M1088.3 98.0V111.0C1088.3 168.1 910.6 410.9 910.6 468.0V481.0M1089.8 98.0V111.0C1089.8 168.1 928.1 410.9 928.1 468.0V481.0" fill="none" stroke="#6acca4" stroke-width="0.8" stroke-opacity="0.35"/>
<path d="M1121.0 57.2H1240.0V111.0C1240.0 168.1 1261.5 410.9 1261.5 468.0V481.0H720.0V468.0C720.0 410.9 1121.0 168.1 1121.0 111.0Z" fill="url(#sgb)"/>
<path d="M1144.2 98.0V111.0C1144.2 168.1 829.0 410.9 829.0 468.0V481.0M1215.9 98.0V111.0C1215.9 168.1 1153.8 410.9 1153.8 468.0V481.0M1220.5 98.0V111.0C1220.5 168.1 1176.3 410.9 1176.3 468.0V481.0M1142.0 98.0V111.0C1142.0 168.1 829.6 410.9 829.6 468.0V481.0M1225.8 98.0V111.0C1225.8 168.1 1185.2 410.9 1185.2 468.0V481.0M1123.6 98.0V111.0C1123.6 168.1 732.9 410.9 732.9 468.0V481.0M1185.8 98.0V111.0C1185.8 168.1 1018.3 410.9 1018.3 468.0V481.0M1236.0 98.0V111.0C1236.0 168.1 1251.5 410.9 1251.5 468.0V481.0M1216.7 98.0V111.0C1216.7 168.1 1131.9 410.9 1131.9 468.0V481.0M1186.1 98.0V111.0C1186.1 168.1 1031.7 410.9 1031.7 468.0V481.0M1131.0 98.0V111.0C1131.0 168.1 742.9 410.9 742.9 468.0V481.0M1208.7 98.0V111.0C1208.7 168.1 1140.7 410.9 1140.7 468.0V481.0M1131.1 98.0V111.0C1131.1 168.1 773.1 410.9 773.1 468.0V481.0M1138.1 98.0V111.0C1138.1 168.1 811.2 410.9 811.2 468.0V481.0M1198.2 98.0V111.0C1198.2 168.1 1057.7 410.9 1057.7 468.0V481.0M1147.2 98.0V111.0C1147.2 168.1 853.7 410.9 853.7 468.0V481.0M1183.1 98.0V111.0C1183.1 168.1 1016.8 410.9 1016.8 468.0V481.0M1167.9 98.0V111.0C1167.9 168.1 924.8 410.9 924.8 468.0V481.0M1236.2 98.0V111.0C1236.2 168.1 1253.7 410.9 1253.7 468.0V481.0M1179.7 98.0V111.0C1179.7 168.1 989.3 410.9 989.3 468.0V481.0M1206.8 98.0V111.0C1206.8 168.1 1121.7 410.9 1121.7 468.0V481.0M1229.9 98.0V111.0C1229.9 168.1 1210.6 410.9 1210.6 468.0V481.0M1219.3 98.0V111.0C1219.3 168.1 1176.4 410.9 1176.4 468.0V481.0M1222.6 98.0V111.0C1222.6 168.1 1198.7 410.9 1198.7 468.0V481.0M1220.2 98.0V111.0C1220.2 168.1 1192.6 410.9 1192.6 468.0V481.0M1235.0 98.0V111.0C1235.0 168.1 1246.2 410.9 1246.2 468.0V481.0M1183.3 98.0V111.0C1183.3 168.1 1015.0 410.9 1015.0 468.0V481.0M1216.5 98.0V111.0C1216.5 168.1 1150.2 410.9 1150.2 468.0V481.0M1171.0 98.0V111.0C1171.0 168.1 928.5 410.9 928.5 468.0V481.0M1209.2 98.0V111.0C1209.2 168.1 1148.0 410.9 1148.0 468.0V481.0M1165.7 98.0V111.0C1165.7 168.1 905.3 410.9 905.3 468.0V481.0M1145.3 98.0V111.0C1145.3 168.1 826.6 410.9 826.6 468.0V481.0M1155.8 98.0V111.0C1155.8 168.1 903.6 410.9 903.6 468.0V481.0M1128.0 98.0V111.0C1128.0 168.1 741.7 410.9 741.7 468.0V481.0M1134.7 98.0V111.0C1134.7 168.1 790.2 410.9 790.2 468.0V481.0M1213.3 98.0V111.0C1213.3 168.1 1122.8 410.9 1122.8 468.0V481.0M1128.4 98.0V111.0C1128.4 168.1 751.5 410.9 751.5 468.0V481.0M1190.5 98.0V111.0C1190.5 168.1 1058.4 410.9 1058.4 468.0V481.0M1125.3 98.0V111.0C1125.3 168.1 720.0 410.9 720.0 468.0V481.0M1143.0 98.0V111.0C1143.0 168.1 804.6 410.9 804.6 468.0V481.0M1149.0 98.0V111.0C1149.0 168.1 859.2 410.9 859.2 468.0V481.0M1191.8 98.0V111.0C1191.8 168.1 1027.1 410.9 1027.1 468.0V481.0M1143.0 98.0V111.0C1143.0 168.1 808.3 410.9 808.3 468.0V481.0M1141.5 98.0V111.0C1141.5 168.1 827.4 410.9 827.4 468.0V481.0M1158.1 98.0V111.0C1158.1 168.1 891.4 410.9 891.4 468.0V481.0M1218.2 98.0V111.0C1218.2 168.1 1161.4 410.9 1161.4 468.0V481.0M1152.0 98.0V111.0C1152.0 168.1 882.0 410.9 882.0 468.0V481.0M1229.8 98.0V111.0C1229.8 168.1 1206.5 410.9 1206.5 468.0V481.0M1186.1 98.0V111.0C1186.1 168.1 1041.1 410.9 1041.1 468.0V481.0M1178.4 98.0V111.0C1178.4 168.1 966.2 410.9 966.2 468.0V481.0M1126.9 98.0V111.0C1126.9 168.1 771.1 410.9 771.1 468.0V481.0M1216.4 98.0V111.0C1216.4 168.1 1147.7 410.9 1147.7 468.0V481.0M1183.8 98.0V111.0C1183.8 168.1 1006.5 410.9 1006.5 468.0V481.0M1153.7 98.0V111.0C1153.7 168.1 895.2 410.9 895.2 468.0V481.0" fill="none" stroke="#fff" stroke-width="0.6" stroke-opacity="0.10"/>
<path d="M1199.2 98.0V111.0C1199.2 168.1 1061.9 410.9 1061.9 468.0V481.0M1122.3 98.0V111.0C1122.3 168.1 724.4 410.9 724.4 468.0V481.0M1165.2 98.0V111.0C1165.2 168.1 937.3 410.9 937.3 468.0V481.0M1205.9 98.0V111.0C1205.9 168.1 1112.0 410.9 1112.0 468.0V481.0M1139.7 98.0V111.0C1139.7 168.1 786.6 410.9 786.6 468.0V481.0M1159.3 98.0V111.0C1159.3 168.1 881.2 410.9 881.2 468.0V481.0M1224.4 98.0V111.0C1224.4 168.1 1191.6 410.9 1191.6 468.0V481.0M1196.8 98.0V111.0C1196.8 168.1 1091.6 410.9 1091.6 468.0V481.0M1152.7 98.0V111.0C1152.7 168.1 866.2 410.9 866.2 468.0V481.0M1138.9 98.0V111.0C1138.9 168.1 816.2 410.9 816.2 468.0V481.0M1121.2 98.0V111.0C1121.2 168.1 738.1 410.9 738.1 468.0V481.0M1221.7 98.0V111.0C1221.7 168.1 1195.6 410.9 1195.6 468.0V481.0M1130.8 98.0V111.0C1130.8 168.1 752.2 410.9 752.2 468.0V481.0M1206.3 98.0V111.0C1206.3 168.1 1086.2 410.9 1086.2 468.0V481.0M1178.1 98.0V111.0C1178.1 168.1 978.3 410.9 978.3 468.0V481.0M1234.7 98.0V111.0C1234.7 168.1 1242.1 410.9 1242.1 468.0V481.0M1223.0 98.0V111.0C1223.0 168.1 1173.6 410.9 1173.6 468.0V481.0M1214.9 98.0V111.0C1214.9 168.1 1142.9 410.9 1142.9 468.0V481.0M1230.1 98.0V111.0C1230.1 168.1 1194.3 410.9 1194.3 468.0V481.0M1219.3 98.0V111.0C1219.3 168.1 1151.7 410.9 1151.7 468.0V481.0M1185.7 98.0V111.0C1185.7 168.1 1015.6 410.9 1015.6 468.0V481.0M1139.7 98.0V111.0C1139.7 168.1 823.3 410.9 823.3 468.0V481.0M1158.1 98.0V111.0C1158.1 168.1 878.4 410.9 878.4 468.0V481.0M1130.0 98.0V111.0C1130.0 168.1 750.6 410.9 750.6 468.0V481.0M1176.6 98.0V111.0C1176.6 168.1 984.7 410.9 984.7 468.0V481.0M1163.8 98.0V111.0C1163.8 168.1 924.9 410.9 924.9 468.0V481.0M1133.6 98.0V111.0C1133.6 168.1 771.5 410.9 771.5 468.0V481.0M1175.9 98.0V111.0C1175.9 168.1 995.3 410.9 995.3 468.0V481.0M1219.7 98.0V111.0C1219.7 168.1 1177.6 410.9 1177.6 468.0V481.0M1122.5 98.0V111.0C1122.5 168.1 720.0 410.9 720.0 468.0V481.0M1205.5 98.0V111.0C1205.5 168.1 1090.3 410.9 1090.3 468.0V481.0M1188.1 98.0V111.0C1188.1 168.1 1023.2 410.9 1023.2 468.0V481.0M1122.2 98.0V111.0C1122.2 168.1 752.3 410.9 752.3 468.0V481.0M1216.1 98.0V111.0C1216.1 168.1 1137.0 410.9 1137.0 468.0V481.0M1194.3 98.0V111.0C1194.3 168.1 1042.2 410.9 1042.2 468.0V481.0M1165.7 98.0V111.0C1165.7 168.1 925.8 410.9 925.8 468.0V481.0M1156.5 98.0V111.0C1156.5 168.1 872.7 410.9 872.7 468.0V481.0M1167.7 98.0V111.0C1167.7 168.1 941.4 410.9 941.4 468.0V481.0M1151.5 98.0V111.0C1151.5 168.1 842.6 410.9 842.6 468.0V481.0M1208.0 98.0V111.0C1208.0 168.1 1106.8 410.9 1106.8 468.0V481.0M1233.5 98.0V111.0C1233.5 168.1 1235.1 410.9 1235.1 468.0V481.0M1207.1 98.0V111.0C1207.1 168.1 1102.8 410.9 1102.8 468.0V481.0M1219.4 98.0V111.0C1219.4 168.1 1145.7 410.9 1145.7 468.0V481.0M1137.8 98.0V111.0C1137.8 168.1 774.3 410.9 774.3 468.0V481.0M1201.6 98.0V111.0C1201.6 168.1 1098.3 410.9 1098.3 468.0V481.0M1142.4 98.0V111.0C1142.4 168.1 812.1 410.9 812.1 468.0V481.0M1220.6 98.0V111.0C1220.6 168.1 1178.2 410.9 1178.2 468.0V481.0M1131.7 98.0V111.0C1131.7 168.1 754.0 410.9 754.0 468.0V481.0M1139.7 98.0V111.0C1139.7 168.1 784.7 410.9 784.7 468.0V481.0M1169.4 98.0V111.0C1169.4 168.1 917.2 410.9 917.2 468.0V481.0M1230.6 98.0V111.0C1230.6 168.1 1214.6 410.9 1214.6 468.0V481.0M1181.9 98.0V111.0C1181.9 168.1 1005.0 410.9 1005.0 468.0V481.0M1212.3 98.0V111.0C1212.3 168.1 1152.6 410.9 1152.6 468.0V481.0M1166.9 98.0V111.0C1166.9 168.1 919.9 410.9 919.9 468.0V481.0" fill="none" stroke="#519fc9" stroke-width="0.8" stroke-opacity="0.35"/>
<path d="M720.0 57.2H852.0V111.0C852.0 168.1 1261.5 410.9 1261.5 468.0V481.0H720.0V468.0C720.0 410.9 720.0 168.1 720.0 111.0Z" fill="url(#redov)"/>
<path d="M1240.0 98.0V111.0C1240.0 168.1 720.3 410.9 720.3 468.0V481.0M1240.1 98.0V111.0C1240.1 168.1 728.4 410.9 728.4 468.0V481.0M1240.2 98.0V111.0C1240.2 168.1 728.9 410.9 728.9 468.0V481.0M1240.3 98.0V111.0C1240.3 168.1 730.0 410.9 730.0 468.0V481.0M1240.3 98.0V111.0C1240.3 168.1 737.3 410.9 737.3 468.0V481.0M1240.4 98.0V111.0C1240.4 168.1 740.5 410.9 740.5 468.0V481.0M1240.5 98.0V111.0C1240.5 168.1 748.1 410.9 748.1 468.0V481.0M1240.6 98.0V111.0C1240.6 168.1 749.6 410.9 749.6 468.0V481.0M1240.6 98.0V111.0C1240.6 168.1 757.1 410.9 757.1 468.0V481.0M1240.7 98.0V111.0C1240.7 168.1 757.8 410.9 757.8 468.0V481.0M1240.8 98.0V111.0C1240.8 168.1 761.3 410.9 761.3 468.0V481.0M1240.9 98.0V111.0C1240.9 168.1 765.1 410.9 765.1 468.0V481.0M1241.0 98.0V111.0C1241.0 168.1 773.4 410.9 773.4 468.0V481.0M1241.0 98.0V111.0C1241.0 168.1 777.5 410.9 777.5 468.0V481.0M1241.1 98.0V111.0C1241.1 168.1 786.4 410.9 786.4 468.0V481.0M1241.2 98.0V111.0C1241.2 168.1 787.0 410.9 787.0 468.0V481.0M1241.3 98.0V111.0C1241.3 168.1 787.2 410.9 787.2 468.0V481.0M1241.3 98.0V111.0C1241.3 168.1 787.4 410.9 787.4 468.0V481.0M1241.4 98.0V111.0C1241.4 168.1 793.4 410.9 793.4 468.0V481.0M1241.5 98.0V111.0C1241.5 168.1 796.8 410.9 796.8 468.0V481.0M1241.6 98.0V111.0C1241.6 168.1 797.4 410.9 797.4 468.0V481.0M1241.6 98.0V111.0C1241.6 168.1 798.4 410.9 798.4 468.0V481.0M1241.7 98.0V111.0C1241.7 168.1 805.7 410.9 805.7 468.0V481.0M1241.8 98.0V111.0C1241.8 168.1 814.1 410.9 814.1 468.0V481.0M1241.9 98.0V111.0C1241.9 168.1 817.5 410.9 817.5 468.0V481.0M1241.9 98.0V111.0C1241.9 168.1 820.5 410.9 820.5 468.0V481.0M1242.0 98.0V111.0C1242.0 168.1 826.8 410.9 826.8 468.0V481.0M1242.1 98.0V111.0C1242.1 168.1 827.2 410.9 827.2 468.0V481.0M1242.2 98.0V111.0C1242.2 168.1 828.0 410.9 828.0 468.0V481.0M1242.2 98.0V111.0C1242.2 168.1 840.1 410.9 840.1 468.0V481.0M1242.3 98.0V111.0C1242.3 168.1 847.7 410.9 847.7 468.0V481.0M1242.4 98.0V111.0C1242.4 168.1 849.5 410.9 849.5 468.0V481.0M1242.5 98.0V111.0C1242.5 168.1 850.4 410.9 850.4 468.0V481.0M1242.5 98.0V111.0C1242.5 168.1 852.1 410.9 852.1 468.0V481.0M1242.6 98.0V111.0C1242.6 168.1 852.5 410.9 852.5 468.0V481.0M1242.7 98.0V111.0C1242.7 168.1 862.8 410.9 862.8 468.0V481.0M1242.8 98.0V111.0C1242.8 168.1 863.2 410.9 863.2 468.0V481.0M1242.8 98.0V111.0C1242.8 168.1 876.3 410.9 876.3 468.0V481.0M1242.9 98.0V111.0C1242.9 168.1 882.1 410.9 882.1 468.0V481.0M1243.0 98.0V111.0C1243.0 168.1 885.0 410.9 885.0 468.0V481.0M1243.1 98.0V111.0C1243.1 168.1 885.9 410.9 885.9 468.0V481.0M1243.2 98.0V111.0C1243.2 168.1 886.6 410.9 886.6 468.0V481.0M1243.2 98.0V111.0C1243.2 168.1 893.7 410.9 893.7 468.0V481.0M1243.3 98.0V111.0C1243.3 168.1 898.3 410.9 898.3 468.0V481.0M1243.4 98.0V111.0C1243.4 168.1 899.2 410.9 899.2 468.0V481.0M1243.5 98.0V111.0C1243.5 168.1 899.8 410.9 899.8 468.0V481.0M1243.5 98.0V111.0C1243.5 168.1 905.3 410.9 905.3 468.0V481.0M1243.6 98.0V111.0C1243.6 168.1 910.9 410.9 910.9 468.0V481.0M1243.7 98.0V111.0C1243.7 168.1 915.6 410.9 915.6 468.0V481.0M1243.8 98.0V111.0C1243.8 168.1 924.5 410.9 924.5 468.0V481.0M1243.8 98.0V111.0C1243.8 168.1 926.7 410.9 926.7 468.0V481.0M1243.9 98.0V111.0C1243.9 168.1 929.2 410.9 929.2 468.0V481.0M1244.0 98.0V111.0C1244.0 168.1 934.2 410.9 934.2 468.0V481.0M1244.1 98.0V111.0C1244.1 168.1 934.8 410.9 934.8 468.0V481.0M1244.1 98.0V111.0C1244.1 168.1 937.0 410.9 937.0 468.0V481.0M1244.2 98.0V111.0C1244.2 168.1 941.5 410.9 941.5 468.0V481.0M1244.3 98.0V111.0C1244.3 168.1 942.8 410.9 942.8 468.0V481.0M1244.4 98.0V111.0C1244.4 168.1 943.2 410.9 943.2 468.0V481.0M1244.4 98.0V111.0C1244.4 168.1 948.2 410.9 948.2 468.0V481.0M1244.5 98.0V111.0C1244.5 168.1 954.0 410.9 954.0 468.0V481.0M1244.6 98.0V111.0C1244.6 168.1 955.0 410.9 955.0 468.0V481.0M1244.7 98.0V111.0C1244.7 168.1 962.0 410.9 962.0 468.0V481.0M1244.8 98.0V111.0C1244.8 168.1 970.7 410.9 970.7 468.0V481.0M1244.8 98.0V111.0C1244.8 168.1 973.4 410.9 973.4 468.0V481.0M1244.9 98.0V111.0C1244.9 168.1 974.5 410.9 974.5 468.0V481.0M1245.0 98.0V111.0C1245.0 168.1 983.1 410.9 983.1 468.0V481.0M1245.1 98.0V111.0C1245.1 168.1 991.0 410.9 991.0 468.0V481.0M1245.1 98.0V111.0C1245.1 168.1 992.2 410.9 992.2 468.0V481.0M1245.2 98.0V111.0C1245.2 168.1 995.8 410.9 995.8 468.0V481.0M1245.3 98.0V111.0C1245.3 168.1 999.4 410.9 999.4 468.0V481.0M1245.4 98.0V111.0C1245.4 168.1 1001.5 410.9 1001.5 468.0V481.0M1245.4 98.0V111.0C1245.4 168.1 1004.3 410.9 1004.3 468.0V481.0M1245.5 98.0V111.0C1245.5 168.1 1004.8 410.9 1004.8 468.0V481.0M1245.6 98.0V111.0C1245.6 168.1 1004.9 410.9 1004.9 468.0V481.0M1245.7 98.0V111.0C1245.7 168.1 1011.1 410.9 1011.1 468.0V481.0M1245.7 98.0V111.0C1245.7 168.1 1014.3 410.9 1014.3 468.0V481.0M1245.8 98.0V111.0C1245.8 168.1 1016.7 410.9 1016.7 468.0V481.0M1245.9 98.0V111.0C1245.9 168.1 1016.9 410.9 1016.9 468.0V481.0M1246.0 98.0V111.0C1246.0 168.1 1023.4 410.9 1023.4 468.0V481.0M1246.0 98.0V111.0C1246.0 168.1 1023.6 410.9 1023.6 468.0V481.0M1246.1 98.0V111.0C1246.1 168.1 1026.5 410.9 1026.5 468.0V481.0M1246.2 98.0V111.0C1246.2 168.1 1026.9 410.9 1026.9 468.0V481.0M1246.3 98.0V111.0C1246.3 168.1 1027.6 410.9 1027.6 468.0V481.0M1246.3 98.0V111.0C1246.3 168.1 1028.4 410.9 1028.4 468.0V481.0M1246.4 98.0V111.0C1246.4 168.1 1030.6 410.9 1030.6 468.0V481.0M1246.5 98.0V111.0C1246.5 168.1 1032.2 410.9 1032.2 468.0V481.0M1246.6 98.0V111.0C1246.6 168.1 1040.5 410.9 1040.5 468.0V481.0M1246.7 98.0V111.0C1246.7 168.1 1041.3 410.9 1041.3 468.0V481.0M1246.7 98.0V111.0C1246.7 168.1 1043.6 410.9 1043.6 468.0V481.0M1246.8 98.0V111.0C1246.8 168.1 1045.0 410.9 1045.0 468.0V481.0M1246.9 98.0V111.0C1246.9 168.1 1045.7 410.9 1045.7 468.0V481.0M1247.0 98.0V111.0C1247.0 168.1 1049.6 410.9 1049.6 468.0V481.0M1247.0 98.0V111.0C1247.0 168.1 1051.1 410.9 1051.1 468.0V481.0M1247.1 98.0V111.0C1247.1 168.1 1057.8 410.9 1057.8 468.0V481.0M1247.2 98.0V111.0C1247.2 168.1 1059.6 410.9 1059.6 468.0V481.0M1247.3 98.0V111.0C1247.3 168.1 1067.5 410.9 1067.5 468.0V481.0M1247.3 98.0V111.0C1247.3 168.1 1072.4 410.9 1072.4 468.0V481.0M1247.4 98.0V111.0C1247.4 168.1 1076.5 410.9 1076.5 468.0V481.0M1247.5 98.0V111.0C1247.5 168.1 1077.5 410.9 1077.5 468.0V481.0M1247.6 98.0V111.0C1247.6 168.1 1080.5 410.9 1080.5 468.0V481.0M1247.6 98.0V111.0C1247.6 168.1 1083.3 410.9 1083.3 468.0V481.0M1247.7 98.0V111.0C1247.7 168.1 1083.5 410.9 1083.5 468.0V481.0M1247.8 98.0V111.0C1247.8 168.1 1093.3 410.9 1093.3 468.0V481.0M1247.9 98.0V111.0C1247.9 168.1 1096.3 410.9 1096.3 468.0V481.0M1247.9 98.0V111.0C1247.9 168.1 1097.5 410.9 1097.5 468.0V481.0M1248.0 98.0V111.0C1248.0 168.1 1099.0 410.9 1099.0 468.0V481.0M1248.1 98.0V111.0C1248.1 168.1 1106.3 410.9 1106.3 468.0V481.0M1248.2 98.0V111.0C1248.2 168.1 1107.4 410.9 1107.4 468.0V481.0M1248.2 98.0V111.0C1248.2 168.1 1112.9 410.9 1112.9 468.0V481.0M1248.3 98.0V111.0C1248.3 168.1 1116.4 410.9 1116.4 468.0V481.0M1248.4 98.0V111.0C1248.4 168.1 1119.5 410.9 1119.5 468.0V481.0M1248.5 98.0V111.0C1248.5 168.1 1124.3 410.9 1124.3 468.0V481.0M1248.6 98.0V111.0C1248.6 168.1 1127.1 410.9 1127.1 468.0V481.0M1248.6 98.0V111.0C1248.6 168.1 1127.1 410.9 1127.1 468.0V481.0M1248.7 98.0V111.0C1248.7 168.1 1130.5 410.9 1130.5 468.0V481.0M1248.8 98.0V111.0C1248.8 168.1 1135.1 410.9 1135.1 468.0V481.0M1248.9 98.0V111.0C1248.9 168.1 1147.0 410.9 1147.0 468.0V481.0M1248.9 98.0V111.0C1248.9 168.1 1147.6 410.9 1147.6 468.0V481.0M1249.0 98.0V111.0C1249.0 168.1 1149.1 410.9 1149.1 468.0V481.0M1249.1 98.0V111.0C1249.1 168.1 1155.3 410.9 1155.3 468.0V481.0M1249.2 98.0V111.0C1249.2 168.1 1156.0 410.9 1156.0 468.0V481.0M1249.2 98.0V111.0C1249.2 168.1 1162.7 410.9 1162.7 468.0V481.0M1249.3 98.0V111.0C1249.3 168.1 1166.5 410.9 1166.5 468.0V481.0M1249.4 98.0V111.0C1249.4 168.1 1166.8 410.9 1166.8 468.0V481.0M1249.5 98.0V111.0C1249.5 168.1 1169.9 410.9 1169.9 468.0V481.0M1249.5 98.0V111.0C1249.5 168.1 1172.4 410.9 1172.4 468.0V481.0M1249.6 98.0V111.0C1249.6 168.1 1173.9 410.9 1173.9 468.0V481.0M1249.7 98.0V111.0C1249.7 168.1 1183.0 410.9 1183.0 468.0V481.0M1249.8 98.0V111.0C1249.8 168.1 1189.2 410.9 1189.2 468.0V481.0M1249.8 98.0V111.0C1249.8 168.1 1205.7 410.9 1205.7 468.0V481.0M1249.9 98.0V111.0C1249.9 168.1 1207.4 410.9 1207.4 468.0V481.0M1250.0 98.0V111.0C1250.0 168.1 1209.0 410.9 1209.0 468.0V481.0M1250.1 98.0V111.0C1250.1 168.1 1209.2 410.9 1209.2 468.0V481.0M1250.1 98.0V111.0C1250.1 168.1 1209.5 410.9 1209.5 468.0V481.0M1250.2 98.0V111.0C1250.2 168.1 1209.7 410.9 1209.7 468.0V481.0M1250.3 98.0V111.0C1250.3 168.1 1210.2 410.9 1210.2 468.0V481.0M1250.4 98.0V111.0C1250.4 168.1 1212.4 410.9 1212.4 468.0V481.0M1250.5 98.0V111.0C1250.5 168.1 1213.5 410.9 1213.5 468.0V481.0M1250.5 98.0V111.0C1250.5 168.1 1223.1 410.9 1223.1 468.0V481.0M1250.6 98.0V111.0C1250.6 168.1 1228.7 410.9 1228.7 468.0V481.0M1250.7 98.0V111.0C1250.7 168.1 1231.7 410.9 1231.7 468.0V481.0M1250.8 98.0V111.0C1250.8 168.1 1235.0 410.9 1235.0 468.0V481.0M1250.8 98.0V111.0C1250.8 168.1 1239.5 410.9 1239.5 468.0V481.0M1250.9 98.0V111.0C1250.9 168.1 1243.3 410.9 1243.3 468.0V481.0M1251.0 98.0V111.0C1251.0 168.1 1247.2 410.9 1247.2 468.0V481.0M1251.1 98.0V111.0C1251.1 168.1 1251.7 410.9 1251.7 468.0V481.0M1251.1 98.0V111.0C1251.1 168.1 1254.3 410.9 1254.3 468.0V481.0M1251.2 98.0V111.0C1251.2 168.1 1254.5 410.9 1254.5 468.0V481.0M1251.3 98.0V111.0C1251.3 168.1 1257.2 410.9 1257.2 468.0V481.0M1251.4 98.0V111.0C1251.4 168.1 1258.6 410.9 1258.6 468.0V481.0" fill="none" stroke="#6a58d0" stroke-width="0.6" stroke-opacity="0.32"/>
<path d="M1251.5 98.0V111.0C1251.5 168.1 815.5 410.9 815.5 468.0V481.0M1251.6 98.0V111.0C1251.6 168.1 819.3 410.9 819.3 468.0V481.0M1251.7 98.0V111.0C1251.7 168.1 835.3 410.9 835.3 468.0V481.0M1251.8 98.0V111.0C1251.8 168.1 836.0 410.9 836.0 468.0V481.0M1251.9 98.0V111.0C1251.9 168.1 841.1 410.9 841.1 468.0V481.0M1252.0 98.0V111.0C1252.0 168.1 855.5 410.9 855.5 468.0V481.0M1252.1 98.0V111.0C1252.1 168.1 872.2 410.9 872.2 468.0V481.0M1252.2 98.0V111.0C1252.2 168.1 879.9 410.9 879.9 468.0V481.0M1252.3 98.0V111.0C1252.3 168.1 882.4 410.9 882.4 468.0V481.0M1252.4 98.0V111.0C1252.4 168.1 896.4 410.9 896.4 468.0V481.0M1252.5 98.0V111.0C1252.5 168.1 918.9 410.9 918.9 468.0V481.0M1252.6 98.0V111.0C1252.6 168.1 940.1 410.9 940.1 468.0V481.0M1252.7 98.0V111.0C1252.7 168.1 944.5 410.9 944.5 468.0V481.0M1252.8 98.0V111.0C1252.8 168.1 945.8 410.9 945.8 468.0V481.0M1252.9 98.0V111.0C1252.9 168.1 949.7 410.9 949.7 468.0V481.0M1253.0 98.0V111.0C1253.0 168.1 950.4 410.9 950.4 468.0V481.0M1253.1 98.0V111.0C1253.1 168.1 953.8 410.9 953.8 468.0V481.0M1253.2 98.0V111.0C1253.2 168.1 957.0 410.9 957.0 468.0V481.0M1253.3 98.0V111.0C1253.3 168.1 959.4 410.9 959.4 468.0V481.0M1253.4 98.0V111.0C1253.4 168.1 960.0 410.9 960.0 468.0V481.0M1253.5 98.0V111.0C1253.5 168.1 963.4 410.9 963.4 468.0V481.0M1253.6 98.0V111.0C1253.6 168.1 966.1 410.9 966.1 468.0V481.0M1253.7 98.0V111.0C1253.7 168.1 975.8 410.9 975.8 468.0V481.0M1253.8 98.0V111.0C1253.8 168.1 979.1 410.9 979.1 468.0V481.0M1253.9 98.0V111.0C1253.9 168.1 982.8 410.9 982.8 468.0V481.0M1254.0 98.0V111.0C1254.0 168.1 988.5 410.9 988.5 468.0V481.0M1254.1 98.0V111.0C1254.1 168.1 991.2 410.9 991.2 468.0V481.0M1254.2 98.0V111.0C1254.2 168.1 1004.9 410.9 1004.9 468.0V481.0M1254.3 98.0V111.0C1254.3 168.1 1006.1 410.9 1006.1 468.0V481.0M1254.4 98.0V111.0C1254.4 168.1 1008.8 410.9 1008.8 468.0V481.0M1254.5 98.0V111.0C1254.5 168.1 1009.2 410.9 1009.2 468.0V481.0M1254.6 98.0V111.0C1254.6 168.1 1014.3 410.9 1014.3 468.0V481.0M1254.7 98.0V111.0C1254.7 168.1 1017.1 410.9 1017.1 468.0V481.0M1254.8 98.0V111.0C1254.8 168.1 1020.1 410.9 1020.1 468.0V481.0M1254.9 98.0V111.0C1254.9 168.1 1020.4 410.9 1020.4 468.0V481.0M1255.0 98.0V111.0C1255.0 168.1 1022.9 410.9 1022.9 468.0V481.0M1255.1 98.0V111.0C1255.1 168.1 1028.6 410.9 1028.6 468.0V481.0M1255.2 98.0V111.0C1255.2 168.1 1042.3 410.9 1042.3 468.0V481.0M1255.3 98.0V111.0C1255.3 168.1 1043.3 410.9 1043.3 468.0V481.0M1255.4 98.0V111.0C1255.4 168.1 1044.7 410.9 1044.7 468.0V481.0M1255.5 98.0V111.0C1255.5 168.1 1050.5 410.9 1050.5 468.0V481.0M1255.6 98.0V111.0C1255.6 168.1 1055.9 410.9 1055.9 468.0V481.0M1255.7 98.0V111.0C1255.7 168.1 1061.3 410.9 1061.3 468.0V481.0M1255.8 98.0V111.0C1255.8 168.1 1079.3 410.9 1079.3 468.0V481.0M1255.9 98.0V111.0C1255.9 168.1 1081.3 410.9 1081.3 468.0V481.0M1256.0 98.0V111.0C1256.0 168.1 1087.9 410.9 1087.9 468.0V481.0M1256.1 98.0V111.0C1256.1 168.1 1092.2 410.9 1092.2 468.0V481.0M1256.2 98.0V111.0C1256.2 168.1 1092.3 410.9 1092.3 468.0V481.0M1256.3 98.0V111.0C1256.3 168.1 1102.3 410.9 1102.3 468.0V481.0M1256.4 98.0V111.0C1256.4 168.1 1102.9 410.9 1102.9 468.0V481.0M1256.5 98.0V111.0C1256.5 168.1 1105.0 410.9 1105.0 468.0V481.0M1256.6 98.0V111.0C1256.6 168.1 1109.3 410.9 1109.3 468.0V481.0M1256.7 98.0V111.0C1256.7 168.1 1110.7 410.9 1110.7 468.0V481.0M1256.8 98.0V111.0C1256.8 168.1 1113.6 410.9 1113.6 468.0V481.0M1256.9 98.0V111.0C1256.9 168.1 1114.5 410.9 1114.5 468.0V481.0M1257.0 98.0V111.0C1257.0 168.1 1120.9 410.9 1120.9 468.0V481.0M1257.1 98.0V111.0C1257.1 168.1 1123.8 410.9 1123.8 468.0V481.0M1257.2 98.0V111.0C1257.2 168.1 1134.3 410.9 1134.3 468.0V481.0M1257.3 98.0V111.0C1257.3 168.1 1135.9 410.9 1135.9 468.0V481.0M1257.4 98.0V111.0C1257.4 168.1 1139.3 410.9 1139.3 468.0V481.0M1257.5 98.0V111.0C1257.5 168.1 1150.6 410.9 1150.6 468.0V481.0M1257.6 98.0V111.0C1257.6 168.1 1153.2 410.9 1153.2 468.0V481.0M1257.7 98.0V111.0C1257.7 168.1 1154.9 410.9 1154.9 468.0V481.0M1257.8 98.0V111.0C1257.8 168.1 1159.3 410.9 1159.3 468.0V481.0M1257.9 98.0V111.0C1257.9 168.1 1160.6 410.9 1160.6 468.0V481.0M1258.0 98.0V111.0C1258.0 168.1 1161.4 410.9 1161.4 468.0V481.0M1258.1 98.0V111.0C1258.1 168.1 1162.3 410.9 1162.3 468.0V481.0M1258.2 98.0V111.0C1258.2 168.1 1167.9 410.9 1167.9 468.0V481.0M1258.3 98.0V111.0C1258.3 168.1 1171.7 410.9 1171.7 468.0V481.0M1258.4 98.0V111.0C1258.4 168.1 1176.4 410.9 1176.4 468.0V481.0M1258.5 98.0V111.0C1258.5 168.1 1177.3 410.9 1177.3 468.0V481.0M1258.6 98.0V111.0C1258.6 168.1 1181.3 410.9 1181.3 468.0V481.0M1258.7 98.0V111.0C1258.7 168.1 1189.1 410.9 1189.1 468.0V481.0M1258.8 98.0V111.0C1258.8 168.1 1190.7 410.9 1190.7 468.0V481.0M1258.9 98.0V111.0C1258.9 168.1 1198.1 410.9 1198.1 468.0V481.0M1259.0 98.0V111.0C1259.0 168.1 1199.2 410.9 1199.2 468.0V481.0M1259.1 98.0V111.0C1259.1 168.1 1201.4 410.9 1201.4 468.0V481.0M1259.2 98.0V111.0C1259.2 168.1 1205.3 410.9 1205.3 468.0V481.0M1259.3 98.0V111.0C1259.3 168.1 1209.0 410.9 1209.0 468.0V481.0M1259.4 98.0V111.0C1259.4 168.1 1215.7 410.9 1215.7 468.0V481.0M1259.5 98.0V111.0C1259.5 168.1 1217.9 410.9 1217.9 468.0V481.0M1259.6 98.0V111.0C1259.6 168.1 1225.0 410.9 1225.0 468.0V481.0M1259.7 98.0V111.0C1259.7 168.1 1227.9 410.9 1227.9 468.0V481.0M1259.8 98.0V111.0C1259.8 168.1 1228.0 410.9 1228.0 468.0V481.0M1259.9 98.0V111.0C1259.9 168.1 1229.3 410.9 1229.3 468.0V481.0M1260.0 98.0V111.0C1260.0 168.1 1232.3 410.9 1232.3 468.0V481.0M1260.1 98.0V111.0C1260.1 168.1 1232.8 410.9 1232.8 468.0V481.0M1260.2 98.0V111.0C1260.2 168.1 1232.9 410.9 1232.9 468.0V481.0M1260.3 98.0V111.0C1260.3 168.1 1233.3 410.9 1233.3 468.0V481.0M1260.4 98.0V111.0C1260.4 168.1 1233.8 410.9 1233.8 468.0V481.0M1260.5 98.0V111.0C1260.5 168.1 1240.1 410.9 1240.1 468.0V481.0M1260.6 98.0V111.0C1260.6 168.1 1241.3 410.9 1241.3 468.0V481.0M1260.7 98.0V111.0C1260.7 168.1 1242.0 410.9 1242.0 468.0V481.0M1260.8 98.0V111.0C1260.8 168.1 1243.3 410.9 1243.3 468.0V481.0M1260.9 98.0V111.0C1260.9 168.1 1244.4 410.9 1244.4 468.0V481.0M1261.0 98.0V111.0C1261.0 168.1 1248.2 410.9 1248.2 468.0V481.0M1261.1 98.0V111.0C1261.1 168.1 1255.3 410.9 1255.3 468.0V481.0M1261.2 98.0V111.0C1261.2 168.1 1256.9 410.9 1256.9 468.0V481.0M1261.3 98.0V111.0C1261.3 168.1 1258.2 410.9 1258.2 468.0V481.0M1261.4 98.0V111.0C1261.4 168.1 1260.3 410.9 1260.3 468.0V481.0" fill="none" stroke="#c03a80" stroke-width="0.6" stroke-opacity="0.34"/>
<rect x="720.0" y="57.2" width="132.0" height="40.8" fill="#c25a5a"/>
<rect x="852.0" y="57.2" width="10.0" height="40.8" fill="#e0c858"/>
<rect x="862.0" y="57.2" width="207.4" height="40.8" fill="#86d27e"/>
<rect x="1069.4" y="57.2" width="51.6" height="40.8" fill="#88d6b6"/>
<rect x="1121.0" y="57.2" width="119.0" height="40.8" fill="#78b6d6"/>
<rect x="1240.0" y="57.2" width="11.4" height="40.8" fill="#9a55dd"/>
<rect x="1251.4" y="57.2" width="10.1" height="40.8" fill="#c84a90"/>
<rect x="720.0" y="481.0" width="541.5" height="43.0" fill="#74b09c"/><rect x="720.0" y="481.0" width="1.7" height="43.0" fill="#7cbc90"/><rect x="721.4" y="481.0" width="1.4" height="43.0" fill="#9aa08e"/><rect x="722.5" y="481.0" width="1.2" height="43.0" fill="#6cb0a4"/><rect x="723.4" y="481.0" width="1.0" height="43.0" fill="#74b4a0"/><rect x="724.1" y="481.0" width="1.7" height="43.0" fill="#74b4a0"/><rect x="725.5" y="481.0" width="1.7" height="43.0" fill="#70acb8"/><rect x="726.9" y="481.0" width="1.2" height="43.0" fill="#6fae98"/><rect x="727.8" y="481.0" width="1.7" height="43.0" fill="#78b49c"/><rect x="729.2" y="481.0" width="0.8" height="43.0" fill="#9aa08e"/><rect x="729.7" y="481.0" width="1.0" height="43.0" fill="#74b4a0"/><rect x="730.4" y="481.0" width="1.7" height="43.0" fill="#6fae98"/><rect x="731.8" y="481.0" width="1.4" height="43.0" fill="#6cb0a4"/><rect x="732.9" y="481.0" width="1.7" height="43.0" fill="#7cbc90"/><rect x="734.3" y="481.0" width="1.2" height="43.0" fill="#6cb0a4"/><rect x="735.2" y="481.0" width="0.8" height="43.0" fill="#6fae98"/><rect x="735.7" y="481.0" width="1.0" height="43.0" fill="#9aa08e"/><rect x="736.4" y="481.0" width="1.7" height="43.0" fill="#9aa08e"/><rect x="737.8" y="481.0" width="1.0" height="43.0" fill="#70acb8"/><rect x="738.5" y="481.0" width="0.8" height="43.0" fill="#74b4a0"/><rect x="739.0" y="481.0" width="0.8" height="43.0" fill="#80c090"/><rect x="739.5" y="481.0" width="1.7" height="43.0" fill="#80c090"/><rect x="740.9" y="481.0" width="1.2" height="43.0" fill="#6cb0a4"/><rect x="741.8" y="481.0" width="1.4" height="43.0" fill="#6fae98"/><rect x="742.9" y="481.0" width="1.7" height="43.0" fill="#6fae98"/><rect x="744.3" y="481.0" width="1.2" height="43.0" fill="#74b4a0"/><rect x="745.2" y="481.0" width="1.4" height="43.0" fill="#80c090"/><rect x="746.3" y="481.0" width="1.7" height="43.0" fill="#6cb0a4"/><rect x="747.7" y="481.0" width="0.8" height="43.0" fill="#74b4a0"/><rect x="748.2" y="481.0" width="1.4" height="43.0" fill="#74b4a0"/><rect x="749.3" y="481.0" width="1.0" height="43.0" fill="#80c090"/><rect x="750.0" y="481.0" width="0.8" height="43.0" fill="#6fae98"/><rect x="750.5" y="481.0" width="1.7" height="43.0" fill="#78b49c"/><rect x="751.9" y="481.0" width="1.0" height="43.0" fill="#6cb0a4"/><rect x="752.6" y="481.0" width="1.7" height="43.0" fill="#6cb0a4"/><rect x="754.0" y="481.0" width="0.8" height="43.0" fill="#6fae98"/><rect x="754.5" y="481.0" width="1.4" height="43.0" fill="#9090b8"/><rect x="755.6" y="481.0" width="1.0" height="43.0" fill="#6fae98"/><rect x="756.3" y="481.0" width="1.7" height="43.0" fill="#74b4a0"/><rect x="757.7" y="481.0" width="1.4" height="43.0" fill="#78b49c"/><rect x="758.8" y="481.0" width="0.8" height="43.0" fill="#80c090"/><rect x="759.3" y="481.0" width="1.7" height="43.0" fill="#74b4a0"/><rect x="760.7" y="481.0" width="1.2" height="43.0" fill="#6fae98"/><rect x="761.6" y="481.0" width="1.0" height="43.0" fill="#7cbc90"/><rect x="762.3" y="481.0" width="0.8" height="43.0" fill="#78b49c"/><rect x="762.8" y="481.0" width="1.2" height="43.0" fill="#74b4a0"/><rect x="763.7" y="481.0" width="1.7" height="43.0" fill="#74b4a0"/><rect x="765.1" y="481.0" width="1.0" height="43.0" fill="#7cbc90"/><rect x="765.8" y="481.0" width="0.8" height="43.0" fill="#80c090"/><rect x="766.3" y="481.0" width="1.7" height="43.0" fill="#80c090"/><rect x="767.7" y="481.0" width="1.7" height="43.0" fill="#78b49c"/><rect x="769.1" y="481.0" width="1.0" height="43.0" fill="#7cbc90"/><rect x="769.8" y="481.0" width="1.4" height="43.0" fill="#78b49c"/><rect x="770.9" y="481.0" width="1.0" height="43.0" fill="#7cbc90"/><rect x="771.6" y="481.0" width="0.8" height="43.0" fill="#74b4a0"/><rect x="772.1" y="481.0" width="1.2" height="43.0" fill="#74b4a0"/><rect x="773.0" y="481.0" width="1.7" height="43.0" fill="#6cb0a4"/><rect x="774.4" y="481.0" width="1.4" height="43.0" fill="#74b4a0"/><rect x="775.5" y="481.0" width="1.0" height="43.0" fill="#70acb8"/><rect x="776.2" y="481.0" width="1.2" height="43.0" fill="#7cbc90"/><rect x="777.1" y="481.0" width="1.4" height="43.0" fill="#78b49c"/><rect x="778.2" y="481.0" width="1.0" height="43.0" fill="#6cb0a4"/><rect x="778.9" y="481.0" width="1.0" height="43.0" fill="#9aa08e"/><rect x="779.6" y="481.0" width="1.4" height="43.0" fill="#6fae98"/><rect x="780.7" y="481.0" width="1.2" height="43.0" fill="#74b4a0"/><rect x="781.6" y="481.0" width="1.2" height="43.0" fill="#70acb8"/><rect x="782.5" y="481.0" width="1.7" height="43.0" fill="#6fae98"/><rect x="783.9" y="481.0" width="1.2" height="43.0" fill="#8a98b8"/><rect x="784.8" y="481.0" width="1.7" height="43.0" fill="#78b49c"/><rect x="786.2" y="481.0" width="1.0" height="43.0" fill="#74b4a0"/><rect x="786.9" y="481.0" width="1.2" height="43.0" fill="#6fae98"/><rect x="787.8" y="481.0" width="1.2" height="43.0" fill="#6fae98"/><rect x="788.7" y="481.0" width="1.0" height="43.0" fill="#80c090"/><rect x="789.4" y="481.0" width="0.8" height="43.0" fill="#6fae98"/><rect x="789.9" y="481.0" width="1.2" height="43.0" fill="#6cb0a4"/><rect x="790.8" y="481.0" width="1.4" height="43.0" fill="#6fae98"/><rect x="791.9" y="481.0" width="1.4" height="43.0" fill="#74b4a0"/><rect x="793.0" y="481.0" width="1.7" height="43.0" fill="#80c090"/><rect x="794.4" y="481.0" width="1.2" height="43.0" fill="#7cbc90"/><rect x="795.3" y="481.0" width="1.0" height="43.0" fill="#7cbc90"/><rect x="796.0" y="481.0" width="1.0" height="43.0" fill="#6fae98"/><rect x="796.7" y="481.0" width="1.7" height="43.0" fill="#6fae98"/><rect x="798.1" y="481.0" width="1.0" height="43.0" fill="#74b4a0"/><rect x="798.8" y="481.0" width="1.4" height="43.0" fill="#7cbc90"/><rect x="799.9" y="481.0" width="1.0" height="43.0" fill="#8a98b8"/><rect x="800.6" y="481.0" width="1.7" height="43.0" fill="#74b4a0"/><rect x="802.0" y="481.0" width="1.4" height="43.0" fill="#80c090"/><rect x="803.1" y="481.0" width="1.0" height="43.0" fill="#9090b8"/><rect x="803.8" y="481.0" width="1.2" height="43.0" fill="#8a98b8"/><rect x="804.7" y="481.0" width="1.4" height="43.0" fill="#7cbc90"/><rect x="805.8" y="481.0" width="1.4" height="43.0" fill="#8a98b8"/><rect x="806.9" y="481.0" width="1.2" height="43.0" fill="#74b4a0"/><rect x="807.8" y="481.0" width="1.2" height="43.0" fill="#74b4a0"/><rect x="808.7" y="481.0" width="1.7" height="43.0" fill="#74b4a0"/><rect x="810.1" y="481.0" width="0.8" height="43.0" fill="#6cb0a4"/><rect x="810.6" y="481.0" width="1.4" height="43.0" fill="#9aa08e"/><rect x="811.7" y="481.0" width="1.2" height="43.0" fill="#80c090"/><rect x="812.6" y="481.0" width="0.8" height="43.0" fill="#78b49c"/><rect x="813.1" y="481.0" width="1.0" height="43.0" fill="#9aa08e"/><rect x="813.8" y="481.0" width="1.2" height="43.0" fill="#80c090"/><rect x="814.7" y="481.0" width="1.2" height="43.0" fill="#74b4a0"/><rect x="815.6" y="481.0" width="1.2" height="43.0" fill="#6fae98"/><rect x="816.5" y="481.0" width="1.4" height="43.0" fill="#6fae98"/><rect x="817.6" y="481.0" width="1.4" height="43.0" fill="#6fae98"/><rect x="818.7" y="481.0" width="1.4" height="43.0" fill="#78b49c"/><rect x="819.8" y="481.0" width="1.2" height="43.0" fill="#7cbc90"/><rect x="820.7" y="481.0" width="1.2" height="43.0" fill="#74b4a0"/><rect x="821.6" y="481.0" width="1.4" height="43.0" fill="#74b4a0"/><rect x="822.7" y="481.0" width="1.0" height="43.0" fill="#74b4a0"/><rect x="823.4" y="481.0" width="1.0" height="43.0" fill="#8a98b8"/><rect x="824.1" y="481.0" width="1.2" height="43.0" fill="#78b49c"/><rect x="825.0" y="481.0" width="1.0" height="43.0" fill="#7cbc90"/><rect x="825.7" y="481.0" width="1.2" height="43.0" fill="#80c090"/><rect x="826.6" y="481.0" width="1.7" height="43.0" fill="#74b4a0"/><rect x="828.0" y="481.0" width="0.8" height="43.0" fill="#78b49c"/><rect x="828.5" y="481.0" width="0.8" height="43.0" fill="#74b4a0"/><rect x="829.0" y="481.0" width="0.8" height="43.0" fill="#78b49c"/><rect x="829.5" y="481.0" width="1.2" height="43.0" fill="#6fae98"/><rect x="830.4" y="481.0" width="1.4" height="43.0" fill="#6cb0a4"/><rect x="831.5" y="481.0" width="1.2" height="43.0" fill="#7cbc90"/><rect x="832.4" y="481.0" width="1.2" height="43.0" fill="#9090b8"/><rect x="833.3" y="481.0" width="0.8" height="43.0" fill="#6fae98"/><rect x="833.8" y="481.0" width="1.2" height="43.0" fill="#74b4a0"/><rect x="834.7" y="481.0" width="1.2" height="43.0" fill="#9aa08e"/><rect x="835.6" y="481.0" width="1.2" height="43.0" fill="#6cb0a4"/><rect x="836.5" y="481.0" width="1.0" height="43.0" fill="#70acb8"/><rect x="837.2" y="481.0" width="1.4" height="43.0" fill="#70acb8"/><rect x="838.3" y="481.0" width="1.2" height="43.0" fill="#6fae98"/><rect x="839.2" y="481.0" width="1.0" height="43.0" fill="#6cb0a4"/><rect x="839.9" y="481.0" width="0.8" height="43.0" fill="#70acb8"/><rect x="840.4" y="481.0" width="1.4" height="43.0" fill="#70acb8"/><rect x="841.5" y="481.0" width="0.8" height="43.0" fill="#74b4a0"/><rect x="842.0" y="481.0" width="1.4" height="43.0" fill="#6cb0a4"/><rect x="843.1" y="481.0" width="1.4" height="43.0" fill="#78b49c"/><rect x="844.2" y="481.0" width="1.4" height="43.0" fill="#6fae98"/><rect x="845.3" y="481.0" width="1.0" height="43.0" fill="#80c090"/><rect x="846.0" y="481.0" width="1.2" height="43.0" fill="#74b4a0"/><rect x="846.9" y="481.0" width="1.2" height="43.0" fill="#7cbc90"/><rect x="847.8" y="481.0" width="0.8" height="43.0" fill="#6fae98"/><rect x="848.3" y="481.0" width="1.0" height="43.0" fill="#74b4a0"/><rect x="849.0" y="481.0" width="1.2" height="43.0" fill="#80c090"/><rect x="849.9" y="481.0" width="1.0" height="43.0" fill="#8a98b8"/><rect x="850.6" y="481.0" width="1.7" height="43.0" fill="#78b49c"/><rect x="852.0" y="481.0" width="0.8" height="43.0" fill="#74b4a0"/><rect x="852.5" y="481.0" width="1.4" height="43.0" fill="#6cb0a4"/><rect x="853.6" y="481.0" width="1.7" height="43.0" fill="#6fae98"/><rect x="855.0" y="481.0" width="1.7" height="43.0" fill="#9090b8"/><rect x="856.4" y="481.0" width="1.2" height="43.0" fill="#74b4a0"/><rect x="857.3" y="481.0" width="0.8" height="43.0" fill="#9090b8"/><rect x="857.8" y="481.0" width="1.2" height="43.0" fill="#6cb0a4"/><rect x="858.7" y="481.0" width="1.0" height="43.0" fill="#80c090"/><rect x="859.4" y="481.0" width="1.0" height="43.0" fill="#78b49c"/><rect x="860.1" y="481.0" width="1.0" height="43.0" fill="#6fae98"/><rect x="860.8" y="481.0" width="1.7" height="43.0" fill="#80c090"/><rect x="862.2" y="481.0" width="1.7" height="43.0" fill="#74b4a0"/><rect x="863.6" y="481.0" width="1.4" height="43.0" fill="#74b4a0"/><rect x="864.7" y="481.0" width="1.7" height="43.0" fill="#7cbc90"/><rect x="866.1" y="481.0" width="1.0" height="43.0" fill="#74b4a0"/><rect x="866.8" y="481.0" width="1.0" height="43.0" fill="#78b49c"/><rect x="867.5" y="481.0" width="1.0" height="43.0" fill="#6cb0a4"/><rect x="868.2" y="481.0" width="0.8" height="43.0" fill="#6cb0a4"/><rect x="868.7" y="481.0" width="1.2" height="43.0" fill="#6fae98"/><rect x="869.6" y="481.0" width="1.4" height="43.0" fill="#8a98b8"/><rect x="870.7" y="481.0" width="1.4" height="43.0" fill="#6fae98"/><rect x="871.8" y="481.0" width="1.7" height="43.0" fill="#6cb0a4"/><rect x="873.2" y="481.0" width="1.4" height="43.0" fill="#6fae98"/><rect x="874.3" y="481.0" width="1.2" height="43.0" fill="#7cbc90"/><rect x="875.2" y="481.0" width="1.4" height="43.0" fill="#74b4a0"/><rect x="876.3" y="481.0" width="1.2" height="43.0" fill="#74b4a0"/><rect x="877.2" y="481.0" width="1.2" height="43.0" fill="#6fae98"/><rect x="878.1" y="481.0" width="1.0" height="43.0" fill="#6cb0a4"/><rect x="878.8" y="481.0" width="1.0" height="43.0" fill="#9aa08e"/><rect x="879.5" y="481.0" width="1.4" height="43.0" fill="#70acb8"/><rect x="880.6" y="481.0" width="1.0" height="43.0" fill="#70acb8"/><rect x="881.3" y="481.0" width="1.2" height="43.0" fill="#6cb0a4"/><rect x="882.2" y="481.0" width="1.0" height="43.0" fill="#74b4a0"/><rect x="882.9" y="481.0" width="1.7" height="43.0" fill="#80c090"/><rect x="884.3" y="481.0" width="1.0" height="43.0" fill="#70acb8"/><rect x="885.0" y="481.0" width="0.8" height="43.0" fill="#7cbc90"/><rect x="885.5" y="481.0" width="1.0" height="43.0" fill="#74b4a0"/><rect x="886.2" y="481.0" width="1.2" height="43.0" fill="#7cbc90"/><rect x="887.1" y="481.0" width="1.4" height="43.0" fill="#7cbc90"/><rect x="888.2" y="481.0" width="1.0" height="43.0" fill="#6fae98"/><rect x="888.9" y="481.0" width="0.8" height="43.0" fill="#6cb0a4"/><rect x="889.4" y="481.0" width="1.0" height="43.0" fill="#74b4a0"/><rect x="890.1" y="481.0" width="1.7" height="43.0" fill="#78b49c"/><rect x="891.5" y="481.0" width="0.8" height="43.0" fill="#7cbc90"/><rect x="892.0" y="481.0" width="0.8" height="43.0" fill="#6cb0a4"/><rect x="892.5" y="481.0" width="1.4" height="43.0" fill="#6fae98"/><rect x="893.6" y="481.0" width="0.8" height="43.0" fill="#74b4a0"/><rect x="894.1" y="481.0" width="1.2" height="43.0" fill="#74b4a0"/><rect x="895.0" y="481.0" width="1.7" height="43.0" fill="#7cbc90"/><rect x="896.4" y="481.0" width="1.0" height="43.0" fill="#78b49c"/><rect x="897.1" y="481.0" width="1.4" height="43.0" fill="#80c090"/><rect x="898.2" y="481.0" width="1.0" height="43.0" fill="#9aa08e"/><rect x="898.9" y="481.0" width="1.0" height="43.0" fill="#7cbc90"/><rect x="899.6" y="481.0" width="0.8" height="43.0" fill="#9aa08e"/><rect x="900.1" y="481.0" width="1.2" height="43.0" fill="#9090b8"/><rect x="901.0" y="481.0" width="1.4" height="43.0" fill="#6fae98"/><rect x="902.1" y="481.0" width="1.2" height="43.0" fill="#9090b8"/><rect x="903.0" y="481.0" width="1.2" height="43.0" fill="#9aa08e"/><rect x="903.9" y="481.0" width="1.0" height="43.0" fill="#74b4a0"/><rect x="904.6" y="481.0" width="1.4" height="43.0" fill="#74b4a0"/><rect x="905.7" y="481.0" width="1.0" height="43.0" fill="#6fae98"/><rect x="906.4" y="481.0" width="1.0" height="43.0" fill="#74b4a0"/><rect x="907.1" y="481.0" width="1.2" height="43.0" fill="#9aa08e"/><rect x="908.0" y="481.0" width="1.0" height="43.0" fill="#6fae98"/><rect x="908.7" y="481.0" width="1.2" height="43.0" fill="#80c090"/><rect x="909.6" y="481.0" width="0.8" height="43.0" fill="#6fae98"/><rect x="910.1" y="481.0" width="1.4" height="43.0" fill="#6fae98"/><rect x="911.2" y="481.0" width="1.0" height="43.0" fill="#78b49c"/><rect x="911.9" y="481.0" width="1.4" height="43.0" fill="#7cbc90"/><rect x="913.0" y="481.0" width="1.4" height="43.0" fill="#74b4a0"/><rect x="914.1" y="481.0" width="1.7" height="43.0" fill="#7cbc90"/><rect x="915.5" y="481.0" width="0.8" height="43.0" fill="#74b4a0"/><rect x="916.0" y="481.0" width="1.7" height="43.0" fill="#70acb8"/><rect x="917.4" y="481.0" width="1.7" height="43.0" fill="#74b4a0"/><rect x="918.8" y="481.0" width="1.0" height="43.0" fill="#78b49c"/><rect x="919.5" y="481.0" width="1.0" height="43.0" fill="#78b49c"/><rect x="920.2" y="481.0" width="1.4" height="43.0" fill="#9aa08e"/><rect x="921.3" y="481.0" width="0.8" height="43.0" fill="#6fae98"/><rect x="921.8" y="481.0" width="0.8" height="43.0" fill="#78b49c"/><rect x="922.3" y="481.0" width="1.7" height="43.0" fill="#6fae98"/><rect x="923.7" y="481.0" width="0.8" height="43.0" fill="#74b4a0"/><rect x="924.2" y="481.0" width="0.8" height="43.0" fill="#6cb0a4"/><rect x="924.7" y="481.0" width="1.2" height="43.0" fill="#6fae98"/><rect x="925.6" y="481.0" width="1.4" height="43.0" fill="#6fae98"/><rect x="926.7" y="481.0" width="1.0" height="43.0" fill="#6fae98"/><rect x="927.4" y="481.0" width="1.2" height="43.0" fill="#6fae98"/><rect x="928.3" y="481.0" width="1.7" height="43.0" fill="#74b4a0"/><rect x="929.7" y="481.0" width="1.0" height="43.0" fill="#6cb0a4"/><rect x="930.4" y="481.0" width="1.4" height="43.0" fill="#7cbc90"/><rect x="931.5" y="481.0" width="1.7" height="43.0" fill="#6cb0a4"/><rect x="932.9" y="481.0" width="0.8" height="43.0" fill="#78b49c"/><rect x="933.4" y="481.0" width="1.4" height="43.0" fill="#7cbc90"/><rect x="934.5" y="481.0" width="1.4" height="43.0" fill="#74b4a0"/><rect x="935.6" y="481.0" width="1.7" height="43.0" fill="#6fae98"/><rect x="937.0" y="481.0" width="1.7" height="43.0" fill="#6fae98"/><rect x="938.4" y="481.0" width="1.2" height="43.0" fill="#7cbc90"/><rect x="939.3" y="481.0" width="1.2" height="43.0" fill="#8a98b8"/><rect x="940.2" y="481.0" width="1.2" height="43.0" fill="#6cb0a4"/><rect x="941.1" y="481.0" width="1.2" height="43.0" fill="#70acb8"/><rect x="942.0" y="481.0" width="1.4" height="43.0" fill="#74b4a0"/><rect x="943.1" y="481.0" width="1.2" height="43.0" fill="#6fae98"/><rect x="944.0" y="481.0" width="1.2" height="43.0" fill="#70acb8"/><rect x="944.9" y="481.0" width="1.2" height="43.0" fill="#74b4a0"/><rect x="945.8" y="481.0" width="1.0" height="43.0" fill="#74b4a0"/><rect x="946.5" y="481.0" width="1.0" height="43.0" fill="#9aa08e"/><rect x="947.2" y="481.0" width="1.0" height="43.0" fill="#6fae98"/><rect x="947.9" y="481.0" width="0.8" height="43.0" fill="#6fae98"/><rect x="948.4" y="481.0" width="1.2" height="43.0" fill="#74b4a0"/><rect x="949.3" y="481.0" width="1.4" height="43.0" fill="#6fae98"/><rect x="950.4" y="481.0" width="1.4" height="43.0" fill="#8a98b8"/><rect x="951.5" y="481.0" width="1.4" height="43.0" fill="#6fae98"/><rect x="952.6" y="481.0" width="1.7" height="43.0" fill="#6cb0a4"/><rect x="954.0" y="481.0" width="1.0" height="43.0" fill="#6fae98"/><rect x="954.7" y="481.0" width="1.0" height="43.0" fill="#74b4a0"/><rect x="955.4" y="481.0" width="1.7" height="43.0" fill="#6fae98"/><rect x="956.8" y="481.0" width="1.2" height="43.0" fill="#7cbc90"/><rect x="957.7" y="481.0" width="1.0" height="43.0" fill="#7cbc90"/><rect x="958.4" y="481.0" width="1.0" height="43.0" fill="#6cb0a4"/><rect x="959.1" y="481.0" width="0.8" height="43.0" fill="#80c090"/><rect x="959.6" y="481.0" width="1.2" height="43.0" fill="#9090b8"/><rect x="960.5" y="481.0" width="1.2" height="43.0" fill="#8a98b8"/><rect x="961.4" y="481.0" width="0.8" height="43.0" fill="#6fae98"/><rect x="961.9" y="481.0" width="1.4" height="43.0" fill="#78b49c"/><rect x="963.0" y="481.0" width="0.8" height="43.0" fill="#74b4a0"/><rect x="963.5" y="481.0" width="1.7" height="43.0" fill="#74b4a0"/><rect x="964.9" y="481.0" width="1.4" height="43.0" fill="#6cb0a4"/><rect x="966.0" y="481.0" width="1.4" height="43.0" fill="#8a98b8"/><rect x="967.1" y="481.0" width="1.7" height="43.0" fill="#78b49c"/><rect x="968.5" y="481.0" width="0.8" height="43.0" fill="#6cb0a4"/><rect x="969.0" y="481.0" width="1.4" height="43.0" fill="#7cbc90"/><rect x="970.1" y="481.0" width="1.4" height="43.0" fill="#7cbc90"/><rect x="971.2" y="481.0" width="1.4" height="43.0" fill="#8a98b8"/><rect x="972.3" y="481.0" width="1.4" height="43.0" fill="#70acb8"/><rect x="973.4" y="481.0" width="1.7" height="43.0" fill="#6fae98"/><rect x="974.8" y="481.0" width="0.8" height="43.0" fill="#8a98b8"/><rect x="975.3" y="481.0" width="1.4" height="43.0" fill="#7cbc90"/><rect x="976.4" y="481.0" width="1.7" height="43.0" fill="#6fae98"/><rect x="977.8" y="481.0" width="0.8" height="43.0" fill="#78b49c"/><rect x="978.3" y="481.0" width="1.0" height="43.0" fill="#8a98b8"/><rect x="979.0" y="481.0" width="1.2" height="43.0" fill="#78b49c"/><rect x="979.9" y="481.0" width="1.7" height="43.0" fill="#74b4a0"/><rect x="981.3" y="481.0" width="1.4" height="43.0" fill="#78b49c"/><rect x="982.4" y="481.0" width="1.4" height="43.0" fill="#6fae98"/><rect x="983.5" y="481.0" width="1.0" height="43.0" fill="#6cb0a4"/><rect x="984.2" y="481.0" width="1.4" height="43.0" fill="#6fae98"/><rect x="985.3" y="481.0" width="1.0" height="43.0" fill="#6cb0a4"/><rect x="986.0" y="481.0" width="1.0" height="43.0" fill="#6cb0a4"/><rect x="986.7" y="481.0" width="0.8" height="43.0" fill="#8a98b8"/><rect x="987.2" y="481.0" width="1.2" height="43.0" fill="#6fae98"/><rect x="988.1" y="481.0" width="0.8" height="43.0" fill="#80c090"/><rect x="988.6" y="481.0" width="1.2" height="43.0" fill="#8a98b8"/><rect x="989.5" y="481.0" width="1.2" height="43.0" fill="#7cbc90"/><rect x="990.4" y="481.0" width="1.7" height="43.0" fill="#6fae98"/><rect x="991.8" y="481.0" width="1.4" height="43.0" fill="#6fae98"/><rect x="992.9" y="481.0" width="1.2" height="43.0" fill="#78b49c"/><rect x="993.8" y="481.0" width="1.0" height="43.0" fill="#6fae98"/><rect x="994.5" y="481.0" width="1.7" height="43.0" fill="#7cbc90"/><rect x="995.9" y="481.0" width="1.4" height="43.0" fill="#6cb0a4"/><rect x="997.0" y="481.0" width="0.8" height="43.0" fill="#6cb0a4"/><rect x="997.5" y="481.0" width="0.8" height="43.0" fill="#6cb0a4"/><rect x="998.0" y="481.0" width="1.7" height="43.0" fill="#78b49c"/><rect x="999.4" y="481.0" width="0.8" height="43.0" fill="#6cb0a4"/><rect x="999.9" y="481.0" width="1.0" height="43.0" fill="#6cb0a4"/><rect x="1000.6" y="481.0" width="1.0" height="43.0" fill="#6fae98"/><rect x="1001.3" y="481.0" width="0.8" height="43.0" fill="#78b49c"/><rect x="1001.8" y="481.0" width="1.0" height="43.0" fill="#6cb0a4"/><rect x="1002.5" y="481.0" width="0.8" height="43.0" fill="#7cbc90"/><rect x="1003.0" y="481.0" width="1.7" height="43.0" fill="#7cbc90"/><rect x="1004.4" y="481.0" width="1.7" height="43.0" fill="#7cbc90"/><rect x="1005.8" y="481.0" width="1.4" height="43.0" fill="#6fae98"/><rect x="1006.9" y="481.0" width="1.0" height="43.0" fill="#8a98b8"/><rect x="1007.6" y="481.0" width="1.2" height="43.0" fill="#6cb0a4"/><rect x="1008.5" y="481.0" width="1.0" height="43.0" fill="#9aa08e"/><rect x="1009.2" y="481.0" width="1.4" height="43.0" fill="#74b4a0"/><rect x="1010.3" y="481.0" width="1.2" height="43.0" fill="#80c090"/><rect x="1011.2" y="481.0" width="1.2" height="43.0" fill="#70acb8"/><rect x="1012.1" y="481.0" width="1.0" height="43.0" fill="#80c090"/><rect x="1012.8" y="481.0" width="1.0" height="43.0" fill="#6cb0a4"/><rect x="1013.5" y="481.0" width="1.0" height="43.0" fill="#80c090"/><rect x="1014.2" y="481.0" width="1.4" height="43.0" fill="#6fae98"/><rect x="1015.3" y="481.0" width="1.2" height="43.0" fill="#6fae98"/><rect x="1016.2" y="481.0" width="1.2" height="43.0" fill="#70acb8"/><rect x="1017.1" y="481.0" width="1.2" height="43.0" fill="#74b4a0"/><rect x="1018.0" y="481.0" width="0.8" height="43.0" fill="#78b49c"/><rect x="1018.5" y="481.0" width="1.0" height="43.0" fill="#80c090"/><rect x="1019.2" y="481.0" width="1.2" height="43.0" fill="#6cb0a4"/><rect x="1020.1" y="481.0" width="1.4" height="43.0" fill="#74b4a0"/><rect x="1021.2" y="481.0" width="0.8" height="43.0" fill="#70acb8"/><rect x="1021.7" y="481.0" width="1.4" height="43.0" fill="#74b4a0"/><rect x="1022.8" y="481.0" width="1.7" height="43.0" fill="#7cbc90"/><rect x="1024.2" y="481.0" width="1.4" height="43.0" fill="#6fae98"/><rect x="1025.3" y="481.0" width="0.8" height="43.0" fill="#78b49c"/><rect x="1025.8" y="481.0" width="1.2" height="43.0" fill="#8a98b8"/><rect x="1026.7" y="481.0" width="1.4" height="43.0" fill="#74b4a0"/><rect x="1027.8" y="481.0" width="1.7" height="43.0" fill="#6fae98"/><rect x="1029.2" y="481.0" width="0.8" height="43.0" fill="#6cb0a4"/><rect x="1029.7" y="481.0" width="1.2" height="43.0" fill="#78b49c"/><rect x="1030.6" y="481.0" width="0.8" height="43.0" fill="#80c090"/><rect x="1031.1" y="481.0" width="1.4" height="43.0" fill="#74b4a0"/><rect x="1032.2" y="481.0" width="1.4" height="43.0" fill="#7cbc90"/><rect x="1033.3" y="481.0" width="1.4" height="43.0" fill="#70acb8"/><rect x="1034.4" y="481.0" width="1.4" height="43.0" fill="#70acb8"/><rect x="1035.5" y="481.0" width="1.2" height="43.0" fill="#7cbc90"/><rect x="1036.4" y="481.0" width="1.2" height="43.0" fill="#70acb8"/><rect x="1037.3" y="481.0" width="1.2" height="43.0" fill="#74b4a0"/><rect x="1038.2" y="481.0" width="0.8" height="43.0" fill="#80c090"/><rect x="1038.7" y="481.0" width="1.0" height="43.0" fill="#6fae98"/><rect x="1039.4" y="481.0" width="1.2" height="43.0" fill="#6fae98"/><rect x="1040.3" y="481.0" width="1.2" height="43.0" fill="#7cbc90"/><rect x="1041.2" y="481.0" width="1.2" height="43.0" fill="#74b4a0"/><rect x="1042.1" y="481.0" width="1.7" height="43.0" fill="#6fae98"/><rect x="1043.5" y="481.0" width="0.8" height="43.0" fill="#7cbc90"/><rect x="1044.0" y="481.0" width="1.0" height="43.0" fill="#6fae98"/><rect x="1044.7" y="481.0" width="1.2" height="43.0" fill="#6fae98"/><rect x="1045.6" y="481.0" width="0.8" height="43.0" fill="#80c090"/><rect x="1046.1" y="481.0" width="1.2" height="43.0" fill="#78b49c"/><rect x="1047.0" y="481.0" width="0.8" height="43.0" fill="#80c090"/><rect x="1047.5" y="481.0" width="1.0" height="43.0" fill="#7cbc90"/><rect x="1048.2" y="481.0" width="1.2" height="43.0" fill="#6fae98"/><rect x="1049.1" y="481.0" width="1.7" height="43.0" fill="#74b4a0"/><rect x="1050.5" y="481.0" width="1.7" height="43.0" fill="#6fae98"/><rect x="1051.9" y="481.0" width="1.0" height="43.0" fill="#78b49c"/><rect x="1052.6" y="481.0" width="1.4" height="43.0" fill="#7cbc90"/><rect x="1053.7" y="481.0" width="1.0" height="43.0" fill="#70acb8"/><rect x="1054.4" y="481.0" width="0.8" height="43.0" fill="#78b49c"/><rect x="1054.9" y="481.0" width="0.8" height="43.0" fill="#78b49c"/><rect x="1055.4" y="481.0" width="1.4" height="43.0" fill="#6cb0a4"/><rect x="1056.5" y="481.0" width="1.0" height="43.0" fill="#8a98b8"/><rect x="1057.2" y="481.0" width="1.7" height="43.0" fill="#74b4a0"/><rect x="1058.6" y="481.0" width="1.2" height="43.0" fill="#6cb0a4"/><rect x="1059.5" y="481.0" width="1.7" height="43.0" fill="#7cbc90"/><rect x="1060.9" y="481.0" width="0.8" height="43.0" fill="#6fae98"/><rect x="1061.4" y="481.0" width="1.7" height="43.0" fill="#6cb0a4"/><rect x="1062.8" y="481.0" width="1.2" height="43.0" fill="#80c090"/><rect x="1063.7" y="481.0" width="1.4" height="43.0" fill="#6cb0a4"/><rect x="1064.8" y="481.0" width="0.8" height="43.0" fill="#7cbc90"/><rect x="1065.3" y="481.0" width="1.0" height="43.0" fill="#6fae98"/><rect x="1066.0" y="481.0" width="1.2" height="43.0" fill="#78b49c"/><rect x="1066.9" y="481.0" width="0.8" height="43.0" fill="#6fae98"/><rect x="1067.4" y="481.0" width="1.4" height="43.0" fill="#8a98b8"/><rect x="1068.5" y="481.0" width="1.7" height="43.0" fill="#78b49c"/><rect x="1069.9" y="481.0" width="0.8" height="43.0" fill="#74b4a0"/><rect x="1070.4" y="481.0" width="1.7" height="43.0" fill="#9aa08e"/><rect x="1071.8" y="481.0" width="0.8" height="43.0" fill="#9aa08e"/><rect x="1072.3" y="481.0" width="1.0" height="43.0" fill="#80c090"/><rect x="1073.0" y="481.0" width="1.7" height="43.0" fill="#8a98b8"/><rect x="1074.4" y="481.0" width="1.2" height="43.0" fill="#74b4a0"/><rect x="1075.3" y="481.0" width="1.0" height="43.0" fill="#74b4a0"/><rect x="1076.0" y="481.0" width="1.4" height="43.0" fill="#7cbc90"/><rect x="1077.1" y="481.0" width="1.0" height="43.0" fill="#70acb8"/><rect x="1077.8" y="481.0" width="1.0" height="43.0" fill="#9aa08e"/><rect x="1078.5" y="481.0" width="1.4" height="43.0" fill="#6fae98"/><rect x="1079.6" y="481.0" width="0.8" height="43.0" fill="#6cb0a4"/><rect x="1080.1" y="481.0" width="1.7" height="43.0" fill="#6fae98"/><rect x="1081.5" y="481.0" width="1.7" height="43.0" fill="#8a98b8"/><rect x="1082.9" y="481.0" width="1.4" height="43.0" fill="#70acb8"/><rect x="1084.0" y="481.0" width="0.8" height="43.0" fill="#7cbc90"/><rect x="1084.5" y="481.0" width="0.8" height="43.0" fill="#74b4a0"/><rect x="1085.0" y="481.0" width="0.8" height="43.0" fill="#80c090"/><rect x="1085.5" y="481.0" width="1.4" height="43.0" fill="#6fae98"/><rect x="1086.6" y="481.0" width="1.7" height="43.0" fill="#70acb8"/><rect x="1088.0" y="481.0" width="1.4" height="43.0" fill="#6fae98"/><rect x="1089.1" y="481.0" width="1.2" height="43.0" fill="#78b49c"/><rect x="1090.0" y="481.0" width="1.7" height="43.0" fill="#70acb8"/><rect x="1091.4" y="481.0" width="0.8" height="43.0" fill="#7cbc90"/><rect x="1091.9" y="481.0" width="1.2" height="43.0" fill="#6fae98"/><rect x="1092.8" y="481.0" width="1.2" height="43.0" fill="#8a98b8"/><rect x="1093.7" y="481.0" width="1.4" height="43.0" fill="#74b4a0"/><rect x="1094.8" y="481.0" width="1.4" height="43.0" fill="#74b4a0"/><rect x="1095.9" y="481.0" width="1.7" height="43.0" fill="#78b49c"/><rect x="1097.3" y="481.0" width="1.7" height="43.0" fill="#78b49c"/><rect x="1098.7" y="481.0" width="0.8" height="43.0" fill="#7cbc90"/><rect x="1099.2" y="481.0" width="1.2" height="43.0" fill="#74b4a0"/><rect x="1100.1" y="481.0" width="1.7" height="43.0" fill="#74b4a0"/><rect x="1101.5" y="481.0" width="1.2" height="43.0" fill="#6fae98"/><rect x="1102.4" y="481.0" width="1.4" height="43.0" fill="#7cbc90"/><rect x="1103.5" y="481.0" width="1.4" height="43.0" fill="#74b4a0"/><rect x="1104.6" y="481.0" width="0.8" height="43.0" fill="#6fae98"/><rect x="1105.1" y="481.0" width="1.7" height="43.0" fill="#6fae98"/><rect x="1106.5" y="481.0" width="1.7" height="43.0" fill="#7cbc90"/><rect x="1107.9" y="481.0" width="1.2" height="43.0" fill="#7cbc90"/><rect x="1108.8" y="481.0" width="1.0" height="43.0" fill="#80c090"/><rect x="1109.5" y="481.0" width="1.2" height="43.0" fill="#6fae98"/><rect x="1110.4" y="481.0" width="1.2" height="43.0" fill="#7cbc90"/><rect x="1111.3" y="481.0" width="1.0" height="43.0" fill="#8a98b8"/><rect x="1112.0" y="481.0" width="1.7" height="43.0" fill="#7cbc90"/><rect x="1113.4" y="481.0" width="0.8" height="43.0" fill="#74b4a0"/><rect x="1113.9" y="481.0" width="1.7" height="43.0" fill="#78b49c"/><rect x="1115.3" y="481.0" width="0.8" height="43.0" fill="#80c090"/><rect x="1115.8" y="481.0" width="1.2" height="43.0" fill="#78b49c"/><rect x="1116.7" y="481.0" width="1.2" height="43.0" fill="#78b49c"/><rect x="1117.6" y="481.0" width="1.2" height="43.0" fill="#6cb0a4"/><rect x="1118.5" y="481.0" width="1.0" height="43.0" fill="#70acb8"/><rect x="1119.2" y="481.0" width="1.7" height="43.0" fill="#6fae98"/><rect x="1120.6" y="481.0" width="1.0" height="43.0" fill="#7cbc90"/><rect x="1121.3" y="481.0" width="1.7" height="43.0" fill="#6cb0a4"/><rect x="1122.7" y="481.0" width="1.2" height="43.0" fill="#6fae98"/><rect x="1123.6" y="481.0" width="0.8" height="43.0" fill="#74b4a0"/><rect x="1124.1" y="481.0" width="1.7" height="43.0" fill="#74b4a0"/><rect x="1125.5" y="481.0" width="1.4" height="43.0" fill="#70acb8"/><rect x="1126.6" y="481.0" width="1.2" height="43.0" fill="#7cbc90"/><rect x="1127.5" y="481.0" width="1.2" height="43.0" fill="#9aa08e"/><rect x="1128.4" y="481.0" width="0.8" height="43.0" fill="#6fae98"/><rect x="1128.9" y="481.0" width="1.0" height="43.0" fill="#6cb0a4"/><rect x="1129.6" y="481.0" width="1.2" height="43.0" fill="#6fae98"/><rect x="1130.5" y="481.0" width="1.0" height="43.0" fill="#6cb0a4"/><rect x="1131.2" y="481.0" width="1.2" height="43.0" fill="#70acb8"/><rect x="1132.1" y="481.0" width="0.8" height="43.0" fill="#78b49c"/><rect x="1132.6" y="481.0" width="1.4" height="43.0" fill="#6fae98"/><rect x="1133.7" y="481.0" width="1.7" height="43.0" fill="#6fae98"/><rect x="1135.1" y="481.0" width="1.0" height="43.0" fill="#78b49c"/><rect x="1135.8" y="481.0" width="0.8" height="43.0" fill="#70acb8"/><rect x="1136.3" y="481.0" width="1.0" height="43.0" fill="#9aa08e"/><rect x="1137.0" y="481.0" width="0.8" height="43.0" fill="#6cb0a4"/><rect x="1137.5" y="481.0" width="1.4" height="43.0" fill="#7cbc90"/><rect x="1138.6" y="481.0" width="0.8" height="43.0" fill="#6fae98"/><rect x="1139.1" y="481.0" width="0.8" height="43.0" fill="#7cbc90"/><rect x="1139.6" y="481.0" width="1.0" height="43.0" fill="#74b4a0"/><rect x="1140.3" y="481.0" width="1.4" height="43.0" fill="#80c090"/><rect x="1141.4" y="481.0" width="0.8" height="43.0" fill="#7cbc90"/><rect x="1141.9" y="481.0" width="0.8" height="43.0" fill="#6cb0a4"/><rect x="1142.4" y="481.0" width="1.2" height="43.0" fill="#80c090"/><rect x="1143.3" y="481.0" width="1.7" height="43.0" fill="#80c090"/><rect x="1144.7" y="481.0" width="0.8" height="43.0" fill="#7cbc90"/><rect x="1145.2" y="481.0" width="1.7" height="43.0" fill="#6fae98"/><rect x="1146.6" y="481.0" width="1.0" height="43.0" fill="#6fae98"/><rect x="1147.3" y="481.0" width="1.2" height="43.0" fill="#8a98b8"/><rect x="1148.2" y="481.0" width="0.8" height="43.0" fill="#6fae98"/><rect x="1148.7" y="481.0" width="1.2" height="43.0" fill="#7cbc90"/><rect x="1149.6" y="481.0" width="0.8" height="43.0" fill="#9090b8"/><rect x="1150.1" y="481.0" width="1.4" height="43.0" fill="#74b4a0"/><rect x="1151.2" y="481.0" width="1.4" height="43.0" fill="#7cbc90"/><rect x="1152.3" y="481.0" width="1.4" height="43.0" fill="#8a98b8"/><rect x="1153.4" y="481.0" width="1.4" height="43.0" fill="#6fae98"/><rect x="1154.5" y="481.0" width="1.0" height="43.0" fill="#6cb0a4"/><rect x="1155.2" y="481.0" width="1.2" height="43.0" fill="#74b4a0"/><rect x="1156.1" y="481.0" width="1.2" height="43.0" fill="#6cb0a4"/><rect x="1157.0" y="481.0" width="1.2" height="43.0" fill="#74b4a0"/><rect x="1157.9" y="481.0" width="1.7" height="43.0" fill="#80c090"/><rect x="1159.3" y="481.0" width="1.4" height="43.0" fill="#9aa08e"/><rect x="1160.4" y="481.0" width="1.4" height="43.0" fill="#74b4a0"/><rect x="1161.5" y="481.0" width="1.7" height="43.0" fill="#6fae98"/><rect x="1162.9" y="481.0" width="1.4" height="43.0" fill="#74b4a0"/><rect x="1164.0" y="481.0" width="1.4" height="43.0" fill="#74b4a0"/><rect x="1165.1" y="481.0" width="1.2" height="43.0" fill="#74b4a0"/><rect x="1166.0" y="481.0" width="1.4" height="43.0" fill="#9aa08e"/><rect x="1167.1" y="481.0" width="1.2" height="43.0" fill="#78b49c"/><rect x="1168.0" y="481.0" width="1.2" height="43.0" fill="#74b4a0"/><rect x="1168.9" y="481.0" width="1.0" height="43.0" fill="#7cbc90"/><rect x="1169.6" y="481.0" width="1.7" height="43.0" fill="#6fae98"/><rect x="1171.0" y="481.0" width="1.0" height="43.0" fill="#78b49c"/><rect x="1171.7" y="481.0" width="1.7" height="43.0" fill="#7cbc90"/><rect x="1173.1" y="481.0" width="1.4" height="43.0" fill="#6fae98"/><rect x="1174.2" y="481.0" width="1.0" height="43.0" fill="#6cb0a4"/><rect x="1174.9" y="481.0" width="0.8" height="43.0" fill="#80c090"/><rect x="1175.4" y="481.0" width="1.7" height="43.0" fill="#6cb0a4"/><rect x="1176.8" y="481.0" width="0.8" height="43.0" fill="#78b49c"/><rect x="1177.3" y="481.0" width="1.2" height="43.0" fill="#9aa08e"/><rect x="1178.2" y="481.0" width="1.7" height="43.0" fill="#7cbc90"/><rect x="1179.6" y="481.0" width="1.4" height="43.0" fill="#6fae98"/><rect x="1180.7" y="481.0" width="1.2" height="43.0" fill="#6cb0a4"/><rect x="1181.6" y="481.0" width="0.8" height="43.0" fill="#74b4a0"/><rect x="1182.1" y="481.0" width="1.0" height="43.0" fill="#74b4a0"/><rect x="1182.8" y="481.0" width="1.0" height="43.0" fill="#6cb0a4"/><rect x="1183.5" y="481.0" width="1.7" height="43.0" fill="#74b4a0"/><rect x="1184.9" y="481.0" width="1.0" height="43.0" fill="#6cb0a4"/><rect x="1185.6" y="481.0" width="1.7" height="43.0" fill="#6fae98"/><rect x="1187.0" y="481.0" width="1.2" height="43.0" fill="#80c090"/><rect x="1187.9" y="481.0" width="1.2" height="43.0" fill="#6fae98"/><rect x="1188.8" y="481.0" width="1.2" height="43.0" fill="#70acb8"/><rect x="1189.7" y="481.0" width="1.2" height="43.0" fill="#6fae98"/><rect x="1190.6" y="481.0" width="1.2" height="43.0" fill="#6fae98"/><rect x="1191.5" y="481.0" width="1.7" height="43.0" fill="#9090b8"/><rect x="1192.9" y="481.0" width="1.2" height="43.0" fill="#74b4a0"/><rect x="1193.8" y="481.0" width="1.7" height="43.0" fill="#6fae98"/><rect x="1195.2" y="481.0" width="1.4" height="43.0" fill="#6fae98"/><rect x="1196.3" y="481.0" width="0.8" height="43.0" fill="#74b4a0"/><rect x="1196.8" y="481.0" width="1.2" height="43.0" fill="#78b49c"/><rect x="1197.7" y="481.0" width="1.0" height="43.0" fill="#6cb0a4"/><rect x="1198.4" y="481.0" width="1.0" height="43.0" fill="#6cb0a4"/><rect x="1199.1" y="481.0" width="1.7" height="43.0" fill="#6cb0a4"/><rect x="1200.5" y="481.0" width="1.7" height="43.0" fill="#6fae98"/><rect x="1201.9" y="481.0" width="1.0" height="43.0" fill="#8a98b8"/><rect x="1202.6" y="481.0" width="1.7" height="43.0" fill="#6cb0a4"/><rect x="1204.0" y="481.0" width="1.2" height="43.0" fill="#74b4a0"/><rect x="1204.9" y="481.0" width="1.4" height="43.0" fill="#78b49c"/><rect x="1206.0" y="481.0" width="1.2" height="43.0" fill="#70acb8"/><rect x="1206.9" y="481.0" width="1.7" height="43.0" fill="#74b4a0"/><rect x="1208.3" y="481.0" width="1.4" height="43.0" fill="#80c090"/><rect x="1209.4" y="481.0" width="1.2" height="43.0" fill="#80c090"/><rect x="1210.3" y="481.0" width="1.7" height="43.0" fill="#74b4a0"/><rect x="1211.7" y="481.0" width="1.2" height="43.0" fill="#9090b8"/><rect x="1212.6" y="481.0" width="0.8" height="43.0" fill="#78b49c"/><rect x="1213.1" y="481.0" width="0.8" height="43.0" fill="#9aa08e"/><rect x="1213.6" y="481.0" width="0.8" height="43.0" fill="#74b4a0"/><rect x="1214.1" y="481.0" width="0.8" height="43.0" fill="#6fae98"/><rect x="1214.6" y="481.0" width="1.7" height="43.0" fill="#78b49c"/><rect x="1216.0" y="481.0" width="1.0" height="43.0" fill="#78b49c"/><rect x="1216.7" y="481.0" width="1.2" height="43.0" fill="#74b4a0"/><rect x="1217.6" y="481.0" width="1.0" height="43.0" fill="#6fae98"/><rect x="1218.3" y="481.0" width="0.8" height="43.0" fill="#6fae98"/><rect x="1218.8" y="481.0" width="1.4" height="43.0" fill="#9aa08e"/><rect x="1219.9" y="481.0" width="1.7" height="43.0" fill="#9aa08e"/><rect x="1221.3" y="481.0" width="1.4" height="43.0" fill="#8a98b8"/><rect x="1222.4" y="481.0" width="1.0" height="43.0" fill="#6fae98"/><rect x="1223.1" y="481.0" width="1.2" height="43.0" fill="#70acb8"/><rect x="1224.0" y="481.0" width="1.0" height="43.0" fill="#6cb0a4"/><rect x="1224.7" y="481.0" width="0.8" height="43.0" fill="#7cbc90"/><rect x="1225.2" y="481.0" width="1.4" height="43.0" fill="#6fae98"/><rect x="1226.3" y="481.0" width="1.4" height="43.0" fill="#6fae98"/><rect x="1227.4" y="481.0" width="1.7" height="43.0" fill="#6fae98"/><rect x="1228.8" y="481.0" width="1.2" height="43.0" fill="#74b4a0"/><rect x="1229.7" y="481.0" width="1.0" height="43.0" fill="#80c090"/><rect x="1230.4" y="481.0" width="1.0" height="43.0" fill="#78b49c"/><rect x="1231.1" y="481.0" width="1.0" height="43.0" fill="#6cb0a4"/><rect x="1231.8" y="481.0" width="0.8" height="43.0" fill="#70acb8"/><rect x="1232.3" y="481.0" width="1.7" height="43.0" fill="#78b49c"/><rect x="1233.7" y="481.0" width="1.7" height="43.0" fill="#70acb8"/><rect x="1235.1" y="481.0" width="1.7" height="43.0" fill="#74b4a0"/><rect x="1236.5" y="481.0" width="1.0" height="43.0" fill="#6fae98"/><rect x="1237.2" y="481.0" width="1.7" height="43.0" fill="#6fae98"/><rect x="1238.6" y="481.0" width="0.8" height="43.0" fill="#6fae98"/><rect x="1239.1" y="481.0" width="1.2" height="43.0" fill="#6cb0a4"/><rect x="1240.0" y="481.0" width="0.8" height="43.0" fill="#7cbc90"/><rect x="1240.5" y="481.0" width="1.0" height="43.0" fill="#6cb0a4"/><rect x="1241.2" y="481.0" width="1.7" height="43.0" fill="#8a98b8"/><rect x="1242.6" y="481.0" width="1.7" height="43.0" fill="#6cb0a4"/><rect x="1244.0" y="481.0" width="0.8" height="43.0" fill="#6fae98"/><rect x="1244.5" y="481.0" width="0.8" height="43.0" fill="#78b49c"/><rect x="1245.0" y="481.0" width="1.0" height="43.0" fill="#78b49c"/><rect x="1245.7" y="481.0" width="1.0" height="43.0" fill="#7cbc90"/><rect x="1246.4" y="481.0" width="1.2" height="43.0" fill="#74b4a0"/><rect x="1247.3" y="481.0" width="1.4" height="43.0" fill="#6fae98"/><rect x="1248.4" y="481.0" width="1.0" height="43.0" fill="#74b4a0"/><rect x="1249.1" y="481.0" width="1.7" height="43.0" fill="#74b4a0"/><rect x="1250.5" y="481.0" width="1.2" height="43.0" fill="#8a98b8"/><rect x="1251.4" y="481.0" width="1.2" height="43.0" fill="#7cbc90"/><rect x="1252.3" y="481.0" width="1.0" height="43.0" fill="#78b49c"/><rect x="1253.0" y="481.0" width="1.4" height="43.0" fill="#6fae98"/><rect x="1254.1" y="481.0" width="1.0" height="43.0" fill="#74b4a0"/><rect x="1254.8" y="481.0" width="1.4" height="43.0" fill="#7cbc90"/><rect x="1255.9" y="481.0" width="1.2" height="43.0" fill="#6fae98"/><rect x="1256.8" y="481.0" width="1.7" height="43.0" fill="#74b4a0"/><rect x="1258.2" y="481.0" width="1.7" height="43.0" fill="#9aa08e"/><rect x="1259.6" y="481.0" width="1.7" height="43.0" fill="#6cb0a4"/><rect x="1261.0" y="481.0" width="0.8" height="43.0" fill="#74b4a0"/>
<text x="1312.9" y="116.2" font-size="15.5" fill="#111">Cuproptosis</text>
<g font-size="12.7" fill="#111">
<rect x="1313.4" y="128.4" width="22.8" height="24.6" fill="#d48a8a"/>
<text x="1345.3" y="145.4">ATP7A</text>
<rect x="1313.4" y="155.5" width="22.8" height="24.6" fill="#d8b48c"/>
<text x="1345.3" y="172.5">CDKN2A</text>
<rect x="1313.4" y="182.6" width="22.8" height="24.6" fill="#e5dc94"/>
<text x="1345.3" y="199.6">DBT</text>
<rect x="1313.4" y="209.7" width="22.8" height="24.6" fill="#cfe094"/>
<text x="1345.3" y="226.7">DLAT</text>
<rect x="1313.4" y="236.8" width="22.8" height="24.6" fill="#aee08e"/>
<text x="1345.3" y="253.8">FDX1</text>
<rect x="1313.4" y="263.9" width="22.8" height="24.6" fill="#a6e0a8"/>
<text x="1345.3" y="280.9">GCSH</text>
<rect x="1313.4" y="291.0" width="22.8" height="24.6" fill="#a6e0cf"/>
<text x="1345.3" y="308.0">GLS</text>
<rect x="1313.4" y="318.1" width="22.8" height="24.6" fill="#a4cce0"/>
<text x="1345.3" y="335.1">LIAS</text>
<rect x="1313.4" y="345.2" width="22.8" height="24.6" fill="#94a8e0"/>
<text x="1345.3" y="362.2">LIPT1</text>
<rect x="1313.4" y="372.3" width="22.8" height="24.6" fill="#9890e0"/>
<text x="1345.3" y="389.3">LIPT2</text>
<rect x="1313.4" y="399.4" width="22.8" height="24.6" fill="#b890e0"/>
<text x="1345.3" y="416.4">MTF1</text>
<rect x="1313.4" y="426.5" width="22.8" height="24.6" fill="#d090d8"/>
<text x="1345.3" y="443.5">NFE2L2</text>
<rect x="1313.4" y="453.6" width="22.8" height="24.6" fill="#d090b4"/>
<text x="1345.3" y="470.6">NLRP3</text>
</g>
<text x="0.5" y="635" font-size="42" font-weight="bold" fill="#000">C</text>
<g fill="none" stroke-width="1.2">
<path d="M95.0 701.4L101.6 701.9L108.3 702.4L114.9 702.8L121.7 703.2L128.4 703.6L135.2 703.9L142.0 704.3L148.9 704.6L155.8 704.9L162.7 705.2L169.6 705.5L176.5 705.8L183.5 706.1L190.5 706.4L197.5 706.7L204.5 707.1L211.5 707.4L218.5 707.8L225.6 708.2L232.6 708.6L239.7 709.0L246.7 709.5L253.8 710.0L260.8 710.6L267.8 711.2L274.9 711.8L281.9 712.5L288.9 713.2L295.9 714.0L302.9 714.9L309.9 715.8L316.8 716.8L323.8 717.8L330.7 718.9L337.6 720.1L344.4 721.4L351.2 722.8L358.0 724.2L364.8 725.7L371.5 727.4L378.2 729.1L384.9 730.9L391.5 732.8L398.1 734.8L404.6 737.0L411.1 739.2L417.5 741.6L423.9 744.0L430.2 746.6L436.5 749.3L442.7 752.2L448.9 755.1L455.0 758.2L461.0 761.4L466.9 764.8L472.7 768.2L478.5 771.8L484.2 775.6L489.8 779.4L495.2 783.4L500.6 787.6L505.9 791.9L511.1 796.3L516.1 800.8L521.1 805.5L525.9 810.3L530.6 815.3L535.1 820.4L539.6 825.7L543.8 831.1L548.0 836.7L552.0 842.4L555.9 848.3L559.6 854.3L563.1 860.5L566.5 866.8L569.8 873.3L572.8 879.9L575.7 886.7" stroke="#7fe4ee"/>
<path d="M95.0 711.1L101.1 711.5L107.3 711.9L113.5 712.2L119.7 712.5L126.0 712.8L132.3 713.1L138.7 713.3L145.1 713.5L151.5 713.8L157.9 714.0L164.3 714.2L170.8 714.4L177.3 714.6L183.8 714.9L190.3 715.1L196.8 715.4L203.4 715.7L209.9 716.0L216.4 716.3L223.0 716.7L229.5 717.1L236.1 717.5L242.6 718.0L249.1 718.6L255.7 719.1L262.2 719.8L268.7 720.5L275.1 721.2L281.6 722.0L288.0 722.9L294.5 723.9L300.8 724.9L307.2 726.0L313.5 727.2L319.8 728.5L326.1 729.8L332.3 731.3L338.5 732.9L344.7 734.5L350.8 736.3L356.8 738.1L362.9 740.1L368.8 742.2L374.7 744.4L380.6 746.8L386.4 749.2L392.1 751.8L397.8 754.6L403.4 757.4L409.0 760.4L414.4 763.6L419.9 766.8L425.2 770.2L430.5 773.6L435.8 777.2L441.0 780.9L446.1 784.7L451.2 788.6L456.2 792.6L461.1 796.7L466.0 800.9L470.8 805.1L475.6 809.5L480.3 813.9L485.0 818.4L489.6 822.9L494.1 827.6L498.6 832.2L503.0 837.0L507.4 841.8L511.7 846.6L516.0 851.5L520.2 856.4L524.3 861.4L528.4 866.4L532.5 871.5L536.5 876.5L540.4 881.6L544.3 886.7" stroke="#a2d98c"/>
<path d="M95.0 818.4L100.1 819.3L105.3 820.1L110.5 821.0L115.6 821.7L120.8 822.5L126.0 823.2L131.2 823.8L136.4 824.5L141.6 825.1L146.9 825.7L152.1 826.2L157.3 826.8L162.6 827.3L167.9 827.8L173.1 828.2L178.4 828.7L183.7 829.1L189.0 829.5L194.2 829.9L199.5 830.3L204.8 830.6L210.1 831.0L215.4 831.4L220.7 831.7L226.0 832.0L231.3 832.4L236.6 832.7L242.0 833.0L247.3 833.3L252.6 833.7L257.9 834.0L263.2 834.3L268.5 834.7L273.8 835.0L279.1 835.4L284.4 835.8L289.7 836.1L295.0 836.5L300.3 836.9L305.6 837.4L310.9 837.8L316.2 838.3L321.5 838.7L326.7 839.2L332.0 839.8L337.3 840.3L342.5 840.9L347.8 841.5L353.0 842.1L358.2 842.8L363.5 843.5L368.7 844.2L373.9 845.0L379.1 845.8L384.3 846.7L389.4 847.5L394.6 848.5L399.7 849.5L404.9 850.5L410.0 851.6L415.1 852.8L420.2 854.0L425.2 855.2L430.3 856.6L435.3 858.0L440.3 859.5L445.3 861.0L450.2 862.7L455.2 864.4L460.1 866.2L464.9 868.1L469.8 870.1L474.6 872.1L479.4 874.3L484.2 876.6L488.9 878.9L493.6 881.4L498.3 884.0L502.9 886.7" stroke="#7fe4ee"/>
<path d="M95.0 870.1L101.1 870.5L107.2 870.9L113.2 871.3L119.3 871.6L125.4 871.9L131.5 872.2L137.6 872.5L143.7 872.7L149.8 872.9L155.9 873.0L162.0 873.2L168.1 873.3L174.2 873.4L180.3 873.4L186.5 873.5L192.6 873.5L198.7 873.5L204.8 873.5L210.9 873.5L217.1 873.4L223.2 873.4L229.3 873.3L235.4 873.2L241.6 873.1L247.7 873.0L253.8 872.9L260.0 872.7L266.1 872.6L272.2 872.5L278.3 872.3L284.5 872.2L290.6 872.0L296.7 871.9L302.9 871.7L309.0 871.5L315.1 871.4L321.3 871.2L327.4 871.1L333.5 870.9L339.6 870.8L345.8 870.6L351.9 870.5L358.0 870.4L364.1 870.2L370.3 870.1L376.4 870.0L382.5 869.9L388.6 869.9L394.7 869.8L400.8 869.8L407.0 869.7L413.1 869.7L419.2 869.7L425.3 869.8L431.4 869.8L437.5 869.9L443.6 870.0L449.7 870.1L455.8 870.2L461.8 870.4L467.9 870.6L474.0 870.8L480.1 871.0L486.2 871.3L492.2 871.6L498.3 872.0L504.4 872.3L510.4 872.8L516.5 873.2L522.5 873.8L528.5 874.5L534.5 875.3L540.5 876.3L546.5 877.5L552.4 878.8L558.3 880.4L564.1 882.2L569.9 884.3L575.7 886.7" stroke="#5a5a5a"/>
<path d="M95.0 883.5L155.3 886.7" stroke="#e49aaa"/>
<path d="M95.0 895.6L155.3 886.7" stroke="#e49aaa"/>
<path d="M95.0 886.7L155.3 886.7" stroke="#5a5a5a"/>
<path d="M155.3 886.7L281.6 886.7" stroke="#e49aaa"/>
<path d="M95.0 911.9L97.4 911.9L99.8 911.9L102.2 911.8L104.6 911.8L107.0 911.7L109.4 911.6L111.8 911.5L114.1 911.4L116.5 911.3L118.9 911.1L121.3 911.0L123.7 910.8L126.1 910.7L128.4 910.5L130.8 910.3L133.2 910.1L135.6 909.9L137.9 909.6L140.3 909.4L142.7 909.1L145.0 908.9L147.4 908.6L149.8 908.3L152.1 908.0L154.5 907.7L156.9 907.4L159.2 907.1L161.6 906.8L164.0 906.5L166.3 906.1L168.7 905.8L171.0 905.4L173.4 905.1L175.8 904.7L178.1 904.4L180.5 904.0L182.8 903.6L185.2 903.2L187.5 902.8L189.9 902.4L192.2 902.0L194.6 901.6L196.9 901.2L199.3 900.8L201.6 900.4L204.0 900.0L206.3 899.6L208.7 899.2L211.0 898.7L213.4 898.3L215.7 897.9L218.1 897.5L220.4 897.1L222.8 896.6L225.1 896.2L227.5 895.8L229.8 895.4L232.2 894.9L234.5 894.5L236.9 894.1L239.2 893.7L241.6 893.2L243.9 892.8L246.3 892.4L248.6 892.0L251.0 891.6L253.3 891.2L255.7 890.8L258.0 890.4L260.4 890.0L262.7 889.6L265.1 889.2L267.5 888.9L269.8 888.5L272.2 888.1L274.5 887.7L276.9 887.4L279.2 887.0L281.6 886.7" stroke="#8cc4f0"/>
<path d="M281.6 886.7L502.9 886.7" stroke="#8cc4f0"/>
<path d="M342.3 886.7L345.3 886.6L348.2 886.5L351.2 886.5L354.2 886.5L357.1 886.5L360.1 886.6L363.1 886.7L366.1 886.8L369.1 887.0L372.1 887.2L375.1 887.4L378.1 887.7L381.1 888.0L384.1 888.3L387.1 888.6L390.2 889.0L393.2 889.4L396.2 889.8L399.2 890.2L402.3 890.6L405.3 891.0L408.3 891.5L411.4 892.0L414.4 892.4L417.4 892.9L420.5 893.4L423.5 893.9L426.6 894.4L429.6 894.9L432.6 895.4L435.7 895.9L438.7 896.4L441.8 896.9L444.8 897.4L447.8 897.9L450.9 898.4L453.9 898.9L456.9 899.4L460.0 899.8L463.0 900.3L466.0 900.7L469.0 901.1L472.1 901.5L475.1 901.9L478.1 902.3L481.1 902.6L484.1 902.9L487.1 903.2L490.1 903.5L493.1 903.7L496.1 903.9L499.1 904.1L502.1 904.3L505.1 904.4L508.1 904.5L511.0 904.5L514.0 904.5L516.9 904.5L519.9 904.4L522.8 904.2L525.7 904.0L528.7 903.8L531.6 903.4L534.4 903.0L537.3 902.6L540.2 902.0L543.0 901.4L545.8 900.7L548.7 899.9L551.5 899.0L554.2 898.1L557.0 897.0L559.7 895.9L562.4 894.6L565.1 893.2L567.8 891.8L570.5 890.2L573.1 888.5L575.7 886.7" stroke="#5a5a5a"/>
<path d="M95.0 907.0L100.4 906.9L105.8 906.9L111.2 906.8L116.7 906.8L122.1 906.7L127.5 906.7L132.9 906.7L138.3 906.7L143.8 906.6L149.2 906.6L154.6 906.6L160.0 906.6L165.5 906.6L170.9 906.6L176.3 906.6L181.7 906.6L187.2 906.6L192.6 906.6L198.0 906.6L203.5 906.6L208.9 906.6L214.3 906.5L219.8 906.5L225.2 906.5L230.6 906.5L236.1 906.5L241.5 906.4L247.0 906.4L252.4 906.4L257.8 906.3L263.3 906.3L268.7 906.2L274.1 906.2L279.6 906.1L285.0 906.0L290.4 905.9L295.9 905.8L301.3 905.7L306.8 905.6L312.2 905.5L317.6 905.3L323.0 905.2L328.5 905.0L333.9 904.8L339.3 904.6L344.8 904.4L350.2 904.2L355.6 904.0L361.0 903.7L366.5 903.5L371.9 903.2L377.3 902.9L382.7 902.6L388.1 902.2L393.6 901.9L399.0 901.5L404.4 901.1L409.8 900.7L415.2 900.3L420.6 899.8L426.0 899.3L431.4 898.9L436.8 898.3L442.2 897.8L447.6 897.2L453.0 896.7L458.4 896.1L463.8 895.4L469.2 894.8L474.6 894.1L479.9 893.4L485.3 892.6L490.7 891.9L496.1 891.1L501.4 890.3L506.8 889.4L512.2 888.5L517.5 887.6L522.9 886.7" stroke="#a2d98c"/>
<path d="M95.0 1000.6L100.9 1000.3L106.8 1000.0L112.7 999.8L118.6 999.5L124.6 999.3L130.5 999.1L136.5 998.9L142.5 998.6L148.5 998.4L154.5 998.2L160.5 998.0L166.5 997.8L172.5 997.5L178.5 997.3L184.6 997.1L190.6 996.8L196.7 996.5L202.7 996.3L208.8 996.0L214.8 995.7L220.9 995.3L226.9 995.0L233.0 994.6L239.0 994.2L245.1 993.8L251.1 993.3L257.1 992.9L263.2 992.4L269.2 991.8L275.2 991.2L281.2 990.6L287.2 990.0L293.2 989.3L299.2 988.5L305.2 987.8L311.2 986.9L317.1 986.1L323.0 985.2L329.0 984.2L334.9 983.2L340.7 982.1L346.6 981.0L352.5 979.8L358.3 978.5L364.1 977.2L369.9 975.9L375.7 974.4L381.4 972.9L387.2 971.4L392.9 969.7L398.6 968.0L404.2 966.3L409.8 964.4L415.4 962.5L421.0 960.5L426.6 958.4L432.1 956.2L437.6 954.0L443.0 951.7L448.4 949.3L453.8 946.8L459.2 944.2L464.5 941.6L469.8 938.8L475.0 936.0L480.2 933.1L485.4 930.1L490.6 927.0L495.7 923.8L500.7 920.5L505.7 917.1L510.7 913.7L515.6 910.1L520.5 906.5L525.4 902.7L530.2 898.9L534.9 894.9L539.6 890.9L544.3 886.7" stroke="#5a5a5a"/>
<path d="M95.0 1020.4L100.5 1020.1L105.9 1019.8L111.4 1019.5L116.9 1019.2L122.4 1018.9L127.9 1018.6L133.5 1018.3L139.0 1017.9L144.6 1017.6L150.2 1017.2L155.7 1016.8L161.3 1016.4L166.9 1015.9L172.5 1015.5L178.1 1015.0L183.7 1014.5L189.3 1014.0L194.9 1013.5L200.5 1012.9L206.1 1012.3L211.7 1011.7L217.3 1011.0L222.9 1010.3L228.5 1009.6L234.1 1008.9L239.7 1008.1L245.3 1007.3L250.9 1006.4L256.4 1005.5L262.0 1004.6L267.5 1003.6L273.1 1002.6L278.6 1001.6L284.1 1000.5L289.6 999.3L295.0 998.1L300.5 996.9L305.9 995.6L311.4 994.3L316.8 992.9L322.2 991.4L327.5 989.9L332.9 988.4L338.2 986.8L343.5 985.1L348.8 983.4L354.0 981.7L359.2 979.8L364.4 977.9L369.6 976.0L374.7 973.9L379.8 971.9L384.9 969.7L390.0 967.5L395.0 965.2L399.9 962.8L404.9 960.4L409.8 957.9L414.7 955.3L419.5 952.7L424.3 950.0L429.0 947.2L433.7 944.3L438.4 941.3L443.0 938.3L447.6 935.2L452.2 932.0L456.7 928.7L461.1 925.3L465.5 921.9L469.9 918.3L474.2 914.7L478.5 911.0L482.7 907.2L486.8 903.3L490.9 899.3L495.0 895.2L499.0 891.0L502.9 886.7" stroke="#d46be2"/>
<path d="M95.0 1078.8L101.4 1078.4L107.8 1078.0L114.3 1077.5L120.7 1077.1L127.2 1076.5L133.7 1076.0L140.2 1075.4L146.7 1074.8L153.2 1074.2L159.7 1073.5L166.2 1072.8L172.7 1072.0L179.3 1071.2L185.8 1070.4L192.4 1069.5L198.9 1068.6L205.4 1067.7L212.0 1066.7L218.5 1065.7L225.1 1064.6L231.6 1063.5L238.2 1062.3L244.7 1061.1L251.2 1059.9L257.8 1058.6L264.3 1057.2L270.8 1055.8L277.3 1054.4L283.8 1052.9L290.3 1051.4L296.7 1049.8L303.2 1048.2L309.6 1046.5L316.0 1044.8L322.4 1043.0L328.8 1041.1L335.2 1039.2L341.6 1037.3L347.9 1035.3L354.2 1033.2L360.5 1031.1L366.8 1028.9L373.0 1026.6L379.3 1024.3L385.5 1022.0L391.6 1019.5L397.8 1017.1L403.9 1014.5L410.0 1011.9L416.0 1009.2L422.0 1006.5L428.0 1003.6L433.9 1000.7L439.8 997.7L445.6 994.7L451.3 991.5L457.0 988.3L462.6 984.9L468.1 981.5L473.6 977.9L478.9 974.3L484.2 970.5L489.4 966.6L494.5 962.7L499.4 958.5L504.3 954.3L509.1 950.0L513.7 945.5L518.2 940.9L522.6 936.1L526.9 931.2L531.0 926.2L535.0 921.0L538.8 915.7L542.5 910.2L546.0 904.6L549.4 898.8L552.6 892.8L555.7 886.7" stroke="#d46be2"/>
<path d="M95.0 1147.5L101.7 1147.1L108.4 1146.6L115.1 1146.0L121.9 1145.4L128.6 1144.7L135.3 1143.9L142.0 1143.0L148.7 1142.1L155.4 1141.1L162.1 1140.0L168.8 1138.9L175.5 1137.7L182.1 1136.4L188.8 1135.0L195.4 1133.6L202.0 1132.1L208.6 1130.5L215.2 1128.9L221.8 1127.1L228.3 1125.3L234.8 1123.4L241.3 1121.5L247.8 1119.5L254.2 1117.3L260.6 1115.2L267.0 1112.9L273.3 1110.5L279.6 1108.1L285.9 1105.6L292.1 1103.0L298.3 1100.4L304.5 1097.6L310.6 1094.8L316.7 1091.9L322.7 1088.9L328.7 1085.9L334.6 1082.7L340.5 1079.5L346.3 1076.2L352.1 1072.8L357.9 1069.3L363.5 1065.8L369.2 1062.1L374.7 1058.4L380.2 1054.6L385.7 1050.7L391.0 1046.8L396.4 1042.7L401.6 1038.6L406.8 1034.3L411.9 1030.0L417.0 1025.6L422.0 1021.2L427.0 1016.6L431.8 1012.0L436.7 1007.3L441.4 1002.6L446.1 997.8L450.8 992.9L455.4 988.0L460.0 983.0L464.5 977.9L468.9 972.8L473.3 967.7L477.7 962.5L482.0 957.3L486.2 952.0L490.5 946.7L494.6 941.4L498.8 936.0L502.9 930.6L506.9 925.2L510.9 919.8L514.9 914.3L518.9 908.8L522.8 903.3L526.6 897.8L530.5 892.2L534.3 886.7" stroke="#8cc4f0"/>
<path d="M502.9 886.7L534.3 886.7" stroke="#d46be2"/>
<path d="M534.3 886.7L544.3 886.7" stroke="#9b8fe0"/>
<path d="M544.3 886.7L575.7 886.7" stroke="#5a5a5a"/>
</g>
<rect x="75.4" y="683.6" width="520.6" height="481.2" fill="none" stroke="#888" stroke-width="1.3"/>
<path d="M132.9 683.6V678.2M132.9 1164.8V1175.2M245.5 683.6V678.2M245.5 1164.8V1175.2M358.1 683.6V678.2M358.1 1164.8V1175.2M470.7 683.6V678.2M470.7 1164.8V1175.2M583.3 683.6V678.2M583.3 1164.8V1175.2M75.4 741H66.6M75.4 886.7H66.6M75.4 1032.8H66.6" stroke="#888" stroke-width="1.2" fill="none"/>
<g font-size="14.5" fill="#111" text-anchor="middle">
<text x="132.9" y="661.8">12</text>
<text x="245.5" y="661.8">10</text>
<text x="358.1" y="661.8">10</text>
<text x="470.7" y="661.8">10</text>
<text x="583.3" y="661.8">0</text>
<text x="132.9" y="1199.2">−6</text>
<text x="245.5" y="1199.2">−5</text>
<text x="358.1" y="1199.2">−4</text>
<text x="470.7" y="1199.2">−3</text>
<text x="583.3" y="1199.2">−2</text>
<text transform="translate(54.7 741) rotate(-90)" x="0" y="0">0.5</text>
<text transform="translate(54.7 886.7) rotate(-90)" x="0" y="0">0.0</text>
<text transform="translate(54.7 1032.8) rotate(-90)" x="0" y="0">−0.5</text>
<text x="335.6" y="1237.2" font-size="14.9">Log Lambda</text>
<text transform="translate(18.2 924) rotate(-90)" x="0" y="0" font-size="15.5">Coefficients</text>
</g>
<g font-size="8" fill="#333" text-anchor="end">
<text x="86.5" y="704.3">5</text>
<text x="86.5" y="714.0">9</text>
<text x="86.5" y="821.3">11</text>
<text x="86.5" y="873.0">1</text>
<text x="86.5" y="886.4">2</text>
<text x="86.5" y="889.6">7</text>
<text x="86.5" y="898.5">8</text>
<text x="86.5" y="909.9">3</text>
<text x="86.5" y="914.8">10</text>
<text x="86.5" y="1003.5">13</text>
<text x="86.5" y="1023.3">12</text>
<text x="86.5" y="1081.7">6</text>
<text x="86.5" y="1150.4">4</text>
</g>
<text x="719" y="634.3" font-size="42" font-weight="bold" fill="#000">D</text>
<path d="M744.0 701.4V1089.4M755.4 702.6V1090.2M766.9 703.4V1091.4M778.3 704.6V1092.6M789.8 705.8V1094.2M801.2 707.4V1095.4M812.7 708.6V1097.0M824.1 711.6V1099.2M835.6 715.4V1100.6M847.0 719.6V1102.8M858.5 723.6V1105.2M869.9 728.4V1107.6M881.4 733.6V1110.4M892.8 739.4V1113.4M904.3 745.4V1116.6M915.7 752.2V1120.2M927.2 758.8V1123.6M938.6 765.4V1126.6M950.0 772.0V1129.0M961.5 778.4V1131.6M972.9 784.4V1133.8M984.4 790.2V1136.2M995.8 796.4V1138.6M1007.3 802.9V1141.1M1018.7 809.3V1143.5M1030.2 815.3V1145.7M1041.6 821.3V1146.5M1053.1 826.8V1147.4M1064.5 832.3V1147.3M1076.0 837.7V1147.3M1087.4 842.5V1147.9M1098.9 846.5V1147.5M1110.3 849.8V1146.6M1121.8 852.3V1145.2M1133.2 852.7V1143.7M1144.6 851.6V1141.6M1156.1 848.1V1137.9M1167.5 842.3V1132.9M1179.0 834.1V1128.3M1190.4 823.0V1119.8M1201.9 809.3V1109.9M1213.3 794.5V1097.9M1224.8 777.7V1084.5M1236.2 761.5V1067.9M1247.7 740.5V1048.7M1259.1 720.7V1030.7M1270.6 705.0V1018.2" stroke="#d4d4d4" stroke-width="1.3" fill="none"/>
<path d="M738.6 701.4H749.4M738.6 1089.4H749.4M750.0 702.6H760.8M750.0 1090.2H760.8M761.5 703.4H772.3M761.5 1091.4H772.3M772.9 704.6H783.7M772.9 1092.6H783.7M784.4 705.8H795.2M784.4 1094.2H795.2M795.8 707.4H806.6M795.8 1095.4H806.6M807.3 708.6H818.1M807.3 1097.0H818.1M818.7 711.6H829.5M818.7 1099.2H829.5M830.2 715.4H841.0M830.2 1100.6H841.0M841.6 719.6H852.4M841.6 1102.8H852.4M853.1 723.6H863.9M853.1 1105.2H863.9M864.5 728.4H875.3M864.5 1107.6H875.3M876.0 733.6H886.8M876.0 1110.4H886.8M887.4 739.4H898.2M887.4 1113.4H898.2M898.9 745.4H909.7M898.9 1116.6H909.7M910.3 752.2H921.1M910.3 1120.2H921.1M921.8 758.8H932.6M921.8 1123.6H932.6M933.2 765.4H944.0M933.2 1126.6H944.0M944.6 772.0H955.4M944.6 1129.0H955.4M956.1 778.4H966.9M956.1 1131.6H966.9M967.5 784.4H978.3M967.5 1133.8H978.3M979.0 790.2H989.8M979.0 1136.2H989.8M990.4 796.4H1001.2M990.4 1138.6H1001.2M1001.9 802.9H1012.7M1001.9 1141.1H1012.7M1013.3 809.3H1024.1M1013.3 1143.5H1024.1M1024.8 815.3H1035.6M1024.8 1145.7H1035.6M1036.2 821.3H1047.0M1036.2 1146.5H1047.0M1047.7 826.8H1058.5M1047.7 1147.4H1058.5M1059.1 832.3H1069.9M1059.1 1147.3H1069.9M1070.6 837.7H1081.4M1070.6 1147.3H1081.4M1082.0 842.5H1092.8M1082.0 1147.9H1092.8M1093.5 846.5H1104.3M1093.5 1147.5H1104.3M1104.9 849.8H1115.7M1104.9 1146.6H1115.7M1116.4 852.3H1127.2M1116.4 1145.2H1127.2M1127.8 852.7H1138.6M1127.8 1143.7H1138.6M1139.2 851.6H1150.0M1139.2 1141.6H1150.0M1150.7 848.1H1161.5M1150.7 1137.9H1161.5M1162.1 842.3H1172.9M1162.1 1132.9H1172.9M1173.6 834.1H1184.4M1173.6 1128.3H1184.4M1185.0 823.0H1195.8M1185.0 1119.8H1195.8M1196.5 809.3H1207.3M1196.5 1109.9H1207.3M1207.9 794.5H1218.7M1207.9 1097.9H1218.7M1219.4 777.7H1230.2M1219.4 1084.5H1230.2M1230.8 761.5H1241.6M1230.8 1067.9H1241.6M1242.3 740.5H1253.1M1242.3 1048.7H1253.1M1253.7 720.7H1264.5M1253.7 1030.7H1264.5M1265.2 705.0H1276.0M1265.2 1018.2H1276.0" stroke="#c8c8c8" stroke-width="1.2" fill="none"/>
<path d="M1122 683.8V1165M1270.6 683.8V1165" stroke="#555" stroke-width="1" stroke-dasharray="3 2" fill="none"/>
<g fill="#dd0000">
<circle cx="744.0" cy="895.4" r="3.2"/>
<circle cx="755.4" cy="896.4" r="3.2"/>
<circle cx="766.9" cy="897.4" r="3.2"/>
<circle cx="778.3" cy="898.6" r="3.2"/>
<circle cx="789.8" cy="900.0" r="3.2"/>
<circle cx="801.2" cy="901.4" r="3.2"/>
<circle cx="812.7" cy="902.8" r="3.2"/>
<circle cx="824.1" cy="905.4" r="3.2"/>
<circle cx="835.6" cy="908.0" r="3.2"/>
<circle cx="847.0" cy="911.2" r="3.2"/>
<circle cx="858.5" cy="914.4" r="3.2"/>
<circle cx="869.9" cy="918.0" r="3.2"/>
<circle cx="881.4" cy="922.0" r="3.2"/>
<circle cx="892.8" cy="926.4" r="3.2"/>
<circle cx="904.3" cy="931.0" r="3.2"/>
<circle cx="915.7" cy="936.2" r="3.2"/>
<circle cx="927.2" cy="941.2" r="3.2"/>
<circle cx="938.6" cy="946.0" r="3.2"/>
<circle cx="950.0" cy="950.5" r="3.2"/>
<circle cx="961.5" cy="955.0" r="3.2"/>
<circle cx="972.9" cy="959.1" r="3.2"/>
<circle cx="984.4" cy="963.2" r="3.2"/>
<circle cx="995.8" cy="967.5" r="3.2"/>
<circle cx="1007.3" cy="972.0" r="3.2"/>
<circle cx="1018.7" cy="976.4" r="3.2"/>
<circle cx="1030.2" cy="980.5" r="3.2"/>
<circle cx="1041.6" cy="983.9" r="3.2"/>
<circle cx="1053.1" cy="987.1" r="3.2"/>
<circle cx="1064.5" cy="989.8" r="3.2"/>
<circle cx="1076.0" cy="992.5" r="3.2"/>
<circle cx="1087.4" cy="995.2" r="3.2"/>
<circle cx="1098.9" cy="997.0" r="3.2"/>
<circle cx="1110.3" cy="998.2" r="3.2"/>
<circle cx="1121.8" cy="998.8" r="3.2"/>
<circle cx="1133.2" cy="998.2" r="3.2"/>
<circle cx="1144.6" cy="996.6" r="3.2"/>
<circle cx="1156.1" cy="993.0" r="3.2"/>
<circle cx="1167.5" cy="987.6" r="3.2"/>
<circle cx="1179.0" cy="981.2" r="3.2"/>
<circle cx="1190.4" cy="971.4" r="3.2"/>
<circle cx="1201.9" cy="959.6" r="3.2"/>
<circle cx="1213.3" cy="946.2" r="3.2"/>
<circle cx="1224.8" cy="931.1" r="3.2"/>
<circle cx="1236.2" cy="914.7" r="3.2"/>
<circle cx="1247.7" cy="894.6" r="3.2"/>
<circle cx="1259.1" cy="875.7" r="3.2"/>
<circle cx="1270.6" cy="861.6" r="3.2"/>
</g>
<rect x="723.2" y="683.8" width="568.3" height="481.2" fill="none" stroke="#888" stroke-width="1.3"/>
<path d="M723.2 751.2H712M723.2 820.2H712M723.2 889.1H712M723.2 958.1H712M723.2 1027.1H712M723.2 1096.1H712M723.2 1165.0H712M785.2 1165V1174M908.3 1165V1174M1031.4 1165V1174M1154.5 1165V1174M1277.6 1165V1174" stroke="#888" stroke-width="1.2" fill="none"/>
<text x="-0.5" y="1250" font-size="42" font-weight="bold" fill="#000">E</text>
<rect x="113.00" y="1283.40" width="71.17" height="24.91" fill="#fffdfb"/>
<rect x="184.17" y="1283.40" width="71.17" height="24.91" fill="#fbefe9"/>
<rect x="255.34" y="1283.40" width="71.17" height="24.91" fill="#f8dfd7"/>
<rect x="326.51" y="1283.40" width="71.17" height="24.91" fill="#fff9f7"/>
<rect x="397.68" y="1283.40" width="71.17" height="24.91" fill="#fff9f7"/>
<rect x="468.85" y="1283.40" width="71.17" height="24.91" fill="#fafafd"/>
<rect x="113.00" y="1308.32" width="71.17" height="24.91" fill="#e0dcef"/>
<rect x="184.17" y="1308.32" width="71.17" height="24.91" fill="#cac6e4"/>
<rect x="255.34" y="1308.32" width="71.17" height="24.91" fill="#e0dcef"/>
<rect x="326.51" y="1308.32" width="71.17" height="24.91" fill="#fafafd"/>
<rect x="397.68" y="1308.32" width="71.17" height="24.91" fill="#e4e1f0"/>
<rect x="468.85" y="1308.32" width="71.17" height="24.91" fill="#e0dcef"/>
<rect x="113.00" y="1333.23" width="71.17" height="24.91" fill="#e9e6f3"/>
<rect x="184.17" y="1333.23" width="71.17" height="24.91" fill="#d4d0e8"/>
<rect x="255.34" y="1333.23" width="71.17" height="24.91" fill="#f0f0f7"/>
<rect x="326.51" y="1333.23" width="71.17" height="24.91" fill="#f2c8bc"/>
<rect x="397.68" y="1333.23" width="71.17" height="24.91" fill="#f8dfd7"/>
<rect x="468.85" y="1333.23" width="71.17" height="24.91" fill="#eeeff5"/>
<rect x="113.00" y="1358.14" width="71.17" height="24.91" fill="#fae6e2"/>
<rect x="184.17" y="1358.14" width="71.17" height="24.91" fill="#eeb6a8"/>
<rect x="255.34" y="1358.14" width="71.17" height="24.91" fill="#fbf0ec"/>
<rect x="326.51" y="1358.14" width="71.17" height="24.91" fill="#f3f3f9"/>
<rect x="397.68" y="1358.14" width="71.17" height="24.91" fill="#fae8e4"/>
<rect x="468.85" y="1358.14" width="71.17" height="24.91" fill="#fbece8"/>
<rect x="113.00" y="1383.06" width="71.17" height="24.91" fill="#fbebe6"/>
<rect x="184.17" y="1383.06" width="71.17" height="24.91" fill="#f4d1c6"/>
<rect x="255.34" y="1383.06" width="71.17" height="24.91" fill="#f2cdc2"/>
<rect x="326.51" y="1383.06" width="71.17" height="24.91" fill="#fdf2ee"/>
<rect x="397.68" y="1383.06" width="71.17" height="24.91" fill="#fcefea"/>
<rect x="468.85" y="1383.06" width="71.17" height="24.91" fill="#f4d3c9"/>
<rect x="113.00" y="1407.98" width="71.17" height="24.91" fill="#efb9aa"/>
<rect x="184.17" y="1407.98" width="71.17" height="24.91" fill="#e99f8e"/>
<rect x="255.34" y="1407.98" width="71.17" height="24.91" fill="#e07c6c"/>
<rect x="326.51" y="1407.98" width="71.17" height="24.91" fill="#f4d2c8"/>
<rect x="397.68" y="1407.98" width="71.17" height="24.91" fill="#f2cbc0"/>
<rect x="468.85" y="1407.98" width="71.17" height="24.91" fill="#efb7a9"/>
<rect x="113.00" y="1432.89" width="71.17" height="24.91" fill="#fdf3ef"/>
<rect x="184.17" y="1432.89" width="71.17" height="24.91" fill="#fefefe"/>
<rect x="255.34" y="1432.89" width="71.17" height="24.91" fill="#fdf3ef"/>
<rect x="326.51" y="1432.89" width="71.17" height="24.91" fill="#f0bcaf"/>
<rect x="397.68" y="1432.89" width="71.17" height="24.91" fill="#fcfcfe"/>
<rect x="468.85" y="1432.89" width="71.17" height="24.91" fill="#fdf3ef"/>
<rect x="113.00" y="1457.81" width="71.17" height="24.91" fill="#e9a797"/>
<rect x="184.17" y="1457.81" width="71.17" height="24.91" fill="#ecb2a3"/>
<rect x="255.34" y="1457.81" width="71.17" height="24.91" fill="#f1c4b8"/>
<rect x="326.51" y="1457.81" width="71.17" height="24.91" fill="#f5d5cc"/>
<rect x="397.68" y="1457.81" width="71.17" height="24.91" fill="#fcf0ec"/>
<rect x="468.85" y="1457.81" width="71.17" height="24.91" fill="#eaac9c"/>
<rect x="113.00" y="1482.72" width="71.17" height="24.91" fill="#e17e6e"/>
<rect x="184.17" y="1482.72" width="71.17" height="24.91" fill="#e58f7e"/>
<rect x="255.34" y="1482.72" width="71.17" height="24.91" fill="#e59482"/>
<rect x="326.51" y="1482.72" width="71.17" height="24.91" fill="#e79a88"/>
<rect x="397.68" y="1482.72" width="71.17" height="24.91" fill="#fcf1ed"/>
<rect x="468.85" y="1482.72" width="71.17" height="24.91" fill="#e79c8b"/>
<rect x="113.00" y="1507.63" width="71.17" height="24.91" fill="#e99e8c"/>
<rect x="184.17" y="1507.63" width="71.17" height="24.91" fill="#ebaa9a"/>
<rect x="255.34" y="1507.63" width="71.17" height="24.91" fill="#e9a594"/>
<rect x="326.51" y="1507.63" width="71.17" height="24.91" fill="#f9f9fc"/>
<rect x="397.68" y="1507.63" width="71.17" height="24.91" fill="#ffffff"/>
<rect x="468.85" y="1507.63" width="71.17" height="24.91" fill="#f5d5cb"/>
<rect x="113.00" y="1532.55" width="71.17" height="24.91" fill="#dc6858"/>
<rect x="184.17" y="1532.55" width="71.17" height="24.91" fill="#e17c6b"/>
<rect x="255.34" y="1532.55" width="71.17" height="24.91" fill="#e69785"/>
<rect x="326.51" y="1532.55" width="71.17" height="24.91" fill="#f0bdb0"/>
<rect x="397.68" y="1532.55" width="71.17" height="24.91" fill="#f6d7ce"/>
<rect x="468.85" y="1532.55" width="71.17" height="24.91" fill="#eeb5a7"/>
<rect x="113.00" y="1557.47" width="71.17" height="24.91" fill="#f9f9fc"/>
<rect x="184.17" y="1557.47" width="71.17" height="24.91" fill="#ffffff"/>
<rect x="255.34" y="1557.47" width="71.17" height="24.91" fill="#f6d8cf"/>
<rect x="326.51" y="1557.47" width="71.17" height="24.91" fill="#e07565"/>
<rect x="397.68" y="1557.47" width="71.17" height="24.91" fill="#fbfbfb"/>
<rect x="468.85" y="1557.47" width="71.17" height="24.91" fill="#fdf8f6"/>
<rect x="113.00" y="1582.38" width="71.17" height="24.91" fill="#e6e4f1"/>
<rect x="184.17" y="1582.38" width="71.17" height="24.91" fill="#d9d7ea"/>
<rect x="255.34" y="1582.38" width="71.17" height="24.91" fill="#ffffff"/>
<rect x="326.51" y="1582.38" width="71.17" height="24.91" fill="#fbebe6"/>
<rect x="397.68" y="1582.38" width="71.17" height="24.91" fill="#f0f0f6"/>
<rect x="468.85" y="1582.38" width="71.17" height="24.91" fill="#ebe9f4"/>
<rect x="113.00" y="1607.30" width="71.17" height="24.91" fill="#f4f4f9"/>
<rect x="184.17" y="1607.30" width="71.17" height="24.91" fill="#f4f4f9"/>
<rect x="255.34" y="1607.30" width="71.17" height="24.91" fill="#f2cbbf"/>
<rect x="326.51" y="1607.30" width="71.17" height="24.91" fill="#f5d4ca"/>
<rect x="397.68" y="1607.30" width="71.17" height="24.91" fill="#fdf8f4"/>
<rect x="468.85" y="1607.30" width="71.17" height="24.91" fill="#f5f5fa"/>
<rect x="113.00" y="1632.21" width="71.17" height="24.91" fill="#eff0f6"/>
<rect x="184.17" y="1632.21" width="71.17" height="24.91" fill="#eff0f6"/>
<rect x="255.34" y="1632.21" width="71.17" height="24.91" fill="#f3d1c6"/>
<rect x="326.51" y="1632.21" width="71.17" height="24.91" fill="#f6d9d0"/>
<rect x="397.68" y="1632.21" width="71.17" height="24.91" fill="#f7f7fb"/>
<rect x="468.85" y="1632.21" width="71.17" height="24.91" fill="#ecebf5"/>
<rect x="113.00" y="1657.12" width="71.17" height="24.91" fill="#efb5a7"/>
<rect x="184.17" y="1657.12" width="71.17" height="24.91" fill="#eca999"/>
<rect x="255.34" y="1657.12" width="71.17" height="24.91" fill="#e99e8c"/>
<rect x="326.51" y="1657.12" width="71.17" height="24.91" fill="#f8e0d8"/>
<rect x="397.68" y="1657.12" width="71.17" height="24.91" fill="#f8e2da"/>
<rect x="468.85" y="1657.12" width="71.17" height="24.91" fill="#eaa696"/>
<rect x="113.00" y="1682.04" width="71.17" height="24.91" fill="#eceaf4"/>
<rect x="184.17" y="1682.04" width="71.17" height="24.91" fill="#e6e3f1"/>
<rect x="255.34" y="1682.04" width="71.17" height="24.91" fill="#f9f9fc"/>
<rect x="326.51" y="1682.04" width="71.17" height="24.91" fill="#f7dcd4"/>
<rect x="397.68" y="1682.04" width="71.17" height="24.91" fill="#c83232"/>
<rect x="468.85" y="1682.04" width="71.17" height="24.91" fill="#eeedf5"/>
<rect x="113.00" y="1706.96" width="71.17" height="24.91" fill="#fefaf7"/>
<rect x="184.17" y="1706.96" width="71.17" height="24.91" fill="#fbece7"/>
<rect x="255.34" y="1706.96" width="71.17" height="24.91" fill="#f9e5de"/>
<rect x="326.51" y="1706.96" width="71.17" height="24.91" fill="#eeb2a4"/>
<rect x="397.68" y="1706.96" width="71.17" height="24.91" fill="#fdfdfd"/>
<rect x="468.85" y="1706.96" width="71.17" height="24.91" fill="#f6d6cd"/>
<rect x="113.00" y="1731.87" width="71.17" height="24.91" fill="#e68c7a"/>
<rect x="184.17" y="1731.87" width="71.17" height="24.91" fill="#e07866"/>
<rect x="255.34" y="1731.87" width="71.17" height="24.91" fill="#e89583"/>
<rect x="326.51" y="1731.87" width="71.17" height="24.91" fill="#f6d6cc"/>
<rect x="397.68" y="1731.87" width="71.17" height="24.91" fill="#f2cbc0"/>
<rect x="468.85" y="1731.87" width="71.17" height="24.91" fill="#e17d6c"/>
<path d="M113.0 1283.40H540.02M113.0 1308.32H540.02M113.0 1333.23H540.02M113.0 1358.14H540.02M113.0 1383.06H540.02M113.0 1407.98H540.02M113.0 1432.89H540.02M113.0 1457.81H540.02M113.0 1482.72H540.02M113.0 1507.63H540.02M113.0 1532.55H540.02M113.0 1557.47H540.02M113.0 1582.38H540.02M113.0 1607.30H540.02M113.0 1632.21H540.02M113.0 1657.12H540.02M113.0 1682.04H540.02M113.0 1706.96H540.02M113.0 1731.87H540.02M113.0 1756.79H540.02M113.00 1283.4V1756.79M184.17 1283.4V1756.79M255.34 1283.4V1756.79M326.51 1283.4V1756.79M397.68 1283.4V1756.79M468.85 1283.4V1756.79M540.02 1283.4V1756.79" stroke="#c0c0c0" stroke-width="1.3" fill="none"/>
<g font-size="10.5" fill="#111" text-anchor="middle"><text x="290.9" y="1299.5">*</text><text x="148.6" y="1324.4">**</text><text x="219.8" y="1324.4">***</text><text x="290.9" y="1324.4">**</text><text x="433.3" y="1324.4">*</text><text x="504.4" y="1324.4">**</text><text x="219.8" y="1349.3">***</text><text x="362.1" y="1349.3">***</text><text x="433.3" y="1349.3">*</text><text x="219.8" y="1374.2">***</text><text x="219.8" y="1399.1">***</text><text x="290.9" y="1399.1">***</text><text x="504.4" y="1399.1">***</text><text x="148.6" y="1424.0">***</text><text x="219.8" y="1424.0">***</text><text x="290.9" y="1424.0">***</text><text x="362.1" y="1424.0">***</text><text x="433.3" y="1424.0">***</text><text x="504.4" y="1424.0">***</text><text x="362.1" y="1448.9">***</text><text x="148.6" y="1473.9">***</text><text x="219.8" y="1473.9">***</text><text x="290.9" y="1473.9">***</text><text x="362.1" y="1473.9">***</text><text x="504.4" y="1473.9">***</text><text x="148.6" y="1498.8">***</text><text x="219.8" y="1498.8">***</text><text x="290.9" y="1498.8">***</text><text x="362.1" y="1498.8">***</text><text x="504.4" y="1498.8">***</text><text x="148.6" y="1523.7">***</text><text x="219.8" y="1523.7">***</text><text x="290.9" y="1523.7">***</text><text x="504.4" y="1523.7">***</text><text x="148.6" y="1548.6">***</text><text x="219.8" y="1548.6">***</text><text x="290.9" y="1548.6">***</text><text x="362.1" y="1548.6">***</text><text x="433.3" y="1548.6">**</text><text x="504.4" y="1548.6">***</text><text x="290.9" y="1573.5">**</text><text x="362.1" y="1573.5">***</text><text x="148.6" y="1598.4">*</text><text x="219.8" y="1598.4">***</text><text x="290.9" y="1623.4">***</text><text x="362.1" y="1623.4">***</text><text x="290.9" y="1648.3">***</text><text x="362.1" y="1648.3">**</text><text x="148.6" y="1673.2">***</text><text x="219.8" y="1673.2">***</text><text x="290.9" y="1673.2">***</text><text x="362.1" y="1673.2">*</text><text x="433.3" y="1673.2">*</text><text x="504.4" y="1673.2">***</text><text x="219.8" y="1698.1">*</text><text x="362.1" y="1698.1">**</text><text x="433.3" y="1698.1">***</text><text x="290.9" y="1723.0">*</text><text x="362.1" y="1723.0">***</text><text x="504.4" y="1723.0">**</text><text x="148.6" y="1747.9">***</text><text x="219.8" y="1747.9">***</text><text x="290.9" y="1747.9">***</text><text x="362.1" y="1747.9">**</text><text x="433.3" y="1747.9">***</text><text x="504.4" y="1747.9">***</text></g>
<path d="M106 1295.9H113M540 1295.9H547M106 1320.8H113M540 1320.8H547M106 1345.7H113M540 1345.7H547M106 1370.6H113M540 1370.6H547M106 1395.5H113M540 1395.5H547M106 1420.4H113M540 1420.4H547M106 1445.3H113M540 1445.3H547M106 1470.3H113M540 1470.3H547M106 1495.2H113M540 1495.2H547M106 1520.1H113M540 1520.1H547M106 1545.0H113M540 1545.0H547M106 1569.9H113M540 1569.9H547M106 1594.8H113M540 1594.8H547M106 1619.8H113M540 1619.8H547M106 1644.7H113M540 1644.7H547M106 1669.6H113M540 1669.6H547M106 1694.5H113M540 1694.5H547M106 1719.4H113M540 1719.4H547M106 1744.3H113M540 1744.3H547M148.6 1757.5V1763M219.8 1757.5V1763M290.9 1757.5V1763M362.1 1757.5V1763M433.3 1757.5V1763M504.4 1757.5V1763" stroke="#e6e6e6" stroke-width="1" fill="none"/>
<g font-size="16.8" font-weight="bold" fill="#444" text-anchor="end">
<text transform="translate(99.4 1302.0) scale(0.875 1)">SLC31A1</text>
<text transform="translate(99.4 1326.9) scale(0.875 1)">PDHB</text>
<text transform="translate(99.4 1351.8) scale(0.875 1)">PDHA1</text>
<text transform="translate(99.4 1376.7) scale(0.875 1)">NLRP3</text>
<text transform="translate(99.4 1401.6) scale(0.875 1)">NFE2L2</text>
<text transform="translate(99.4 1426.5) scale(0.875 1)">MTF1</text>
<text transform="translate(99.4 1451.4) scale(0.875 1)">LIPT2</text>
<text transform="translate(99.4 1476.4) scale(0.875 1)">LIPT1</text>
<text transform="translate(99.4 1501.3) scale(0.875 1)">LIAS</text>
<text transform="translate(99.4 1526.2) scale(0.875 1)">GLS</text>
<text transform="translate(99.4 1551.1) scale(0.875 1)">GCSH</text>
<text transform="translate(99.4 1576.0) scale(0.875 1)">FDX1</text>
<text transform="translate(99.4 1600.9) scale(0.875 1)">DLST</text>
<text transform="translate(99.4 1625.9) scale(0.875 1)">DLD</text>
<text transform="translate(99.4 1650.8) scale(0.875 1)">DLAT</text>
<text transform="translate(99.4 1675.7) scale(0.875 1)">DBT</text>
<text transform="translate(99.4 1700.6) scale(0.875 1)">CDKN2A</text>
<text transform="translate(99.4 1725.5) scale(0.875 1)">ATP7B</text>
<text transform="translate(99.4 1750.4) scale(0.875 1)">ATP7A</text>
</g>
<g font-size="15.8" font-weight="bold" fill="#444" text-anchor="end">
<text transform="translate(155.8 1774.7) scale(0.875 1) rotate(-45)">AC034102.8</text>
<text transform="translate(227.0 1774.7) scale(0.875 1) rotate(-45)">AL138778.1</text>
<text transform="translate(298.1 1774.7) scale(0.875 1) rotate(-45)">AL360270.1</text>
<text transform="translate(369.3 1774.7) scale(0.875 1) rotate(-45)">AP003778.1</text>
<text transform="translate(440.5 1774.7) scale(0.875 1) rotate(-45)">CDKN2A−DT</text>
<text transform="translate(511.6 1774.7) scale(0.875 1) rotate(-45)">LINC02718</text>
</g>
<g font-size="13.2" fill="#111">
<text x="568" y="1425.4">***</text><text x="591.8" y="1425.4">p&lt;0.001</text>
<text x="568" y="1442.3">**</text><text x="586.5" y="1442.3">p&lt;0.01</text>
<text x="572" y="1459.2">*</text><text x="585" y="1459.2">p&lt;0.05</text>
<text x="568" y="1493.5" font-size="13.6">Correlation</text>
</g>
<defs><linearGradient id="cg" x1="0" y1="0" x2="0" y2="1">
<stop offset="0" stop-color="#c92f2f"/>
<stop offset="0.0825" stop-color="#d0473e"/>
<stop offset="0.307" stop-color="#e08777"/>
<stop offset="0.53" stop-color="#f0c6bc"/>
<stop offset="0.754" stop-color="#ffffff"/>
<stop offset="1" stop-color="#c5c3e1"/>
</linearGradient></defs>
<rect x="568" y="1503.8" width="21.2" height="124.1" fill="url(#cg)"/>
<path d="M568 1514.2H572M585.2 1514.2H589.2M568 1542.0H572M585.2 1542.0H589.2M568 1569.8H572M585.2 1569.8H589.2M568 1597.6H572M585.2 1597.6H589.2M568 1625.4H572M585.2 1625.4H589.2" stroke="#fff" stroke-width="1" fill="none" opacity="0.6"/>
<g font-size="12.2" fill="#111">
<text x="596" y="1518.8">0.6</text>
<text x="596" y="1546.7">0.4</text>
<text x="596" y="1574.7">0.2</text>
<text x="596" y="1602.6">0.0</text>
<text x="596" y="1630.5">−0.2</text>
</g>
</svg></body></html>
